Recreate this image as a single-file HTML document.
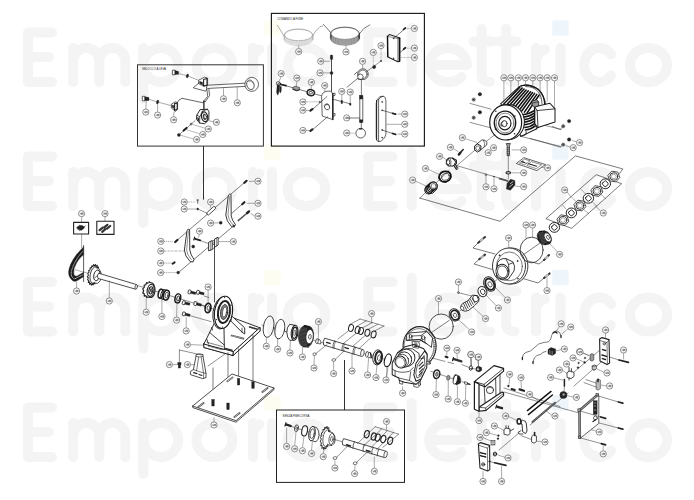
<!DOCTYPE html>
<html><head><meta charset="utf-8"><title>Exploded view</title>
<style>
html,body{margin:0;padding:0;background:#fff;}
body{width:694px;height:500px;overflow:hidden;font-family:"Liberation Sans",sans-serif;}
svg{display:block;}
.wm{fill:none;stroke:#f4f4f4;stroke-width:10;stroke-linecap:round;stroke-linejoin:round;}
.k{fill:none;stroke:#222;stroke-width:0.7;stroke-linecap:round;stroke-linejoin:round;}
.t{fill:none;stroke:#444;stroke-width:0.45;}
.f{fill:#fff;stroke:#222;stroke-width:0.7;stroke-linejoin:round;}
.d{fill:#222;stroke:#222;stroke-width:0.4;}
.g{fill:#999;stroke:#222;stroke-width:0.5;}
.c{fill:#fff;stroke:#333;stroke-width:0.5;}
.bx{fill:none;stroke:#1a1a1a;stroke-width:0.9;}
.n{font-family:"Liberation Sans",sans-serif;font-size:2.6px;fill:#333;text-anchor:middle;}
.lb{font-family:"Liberation Sans",sans-serif;font-size:3.4px;fill:#222;}
</style></head><body>
<svg width="694" height="500" viewBox="0 0 694 500">
<rect width="694" height="500" fill="#fff"/>
<defs>
<g id="wr">
<path class="wm" d="M52,-54.5H28V-5H52M28,-30H49"/>
<path class="wm" d="M73.2,-39V-5M73.2,-26A13.1,13.1 0 0 1 99.4,-26V-5M99.4,-26A13,13.1 0 0 1 125.4,-26V-5"/>
<path class="wm" d="M143.4,-39V12"/><ellipse class="wm" cx="160.8" cy="-22" rx="17.4" ry="17"/>
<ellipse class="wm" cx="214.4" cy="-22" rx="18" ry="17"/>
<path class="wm" d="M253,-39V-5M253,-25A13,13 0 0 1 259.5,-37.5"/>
<path class="wm" d="M272,-39V-5"/>
<rect x="263.7" y="-66.5" width="17" height="15" rx="1.5" fill="#fefdf2"/>
<ellipse class="wm" cx="306.5" cy="-22" rx="18.8" ry="17"/>
<path class="wm" d="M392.5,-54.5H368.4V-5H392.5M368.4,-30H390"/>
<path class="wm" d="M411.6,-59V-5"/>
<path class="wm" d="M430,-22H467A18.9,17 0 1 0 461.5,-10"/>
<path class="wm" d="M481.6,-58V-13Q481.6,-5 490,-5M473.5,-45.5H492.5" />
<path class="wm" d="M506.2,-58V-13Q506.2,-5 514.6,-5M499,-45.5H516.5"/>
<path class="wm" d="M536,-39V-5M536,-25A13,13 0 0 1 545,-37.5"/>
<path class="wm" d="M560.5,-39V-5"/>
<rect x="552.2" y="-66.8" width="16.5" height="15.6" rx="1.5" fill="#eef6fb"/>
<path class="wm" d="M611,-32.5A15,17 0 1 0 611,-11.5"/>
<ellipse class="wm" cx="648.5" cy="-22" rx="18.6" ry="17"/>
</g>
</defs>
<use href="#wr" y="87"/><use href="#wr" y="211"/><use href="#wr" y="336.5"/><use href="#wr" y="462"/>
<defs><g id="co"><circle r="3.1" style="fill:#fff;stroke:#4a4a4a;stroke-width:0.62"/><path d="M-1.3,0.8L-1.3,-0.8M-0.5,-0.8h0.9v0.8h-0.9v0.8h0.9M0.9,-0.8h0.7v1.6h-0.7z" style="fill:none;stroke:#2a2a2a;stroke-width:0.42"/></g></defs>
<!-- 00_boxes.py -->
<rect class="bx" x="137.5" y="64.8" width="125.9" height="81.3" style="stroke:#333;stroke-width:1.0"/>
<rect class="bx" x="271.4" y="13.4" width="153.0" height="132.7" style="stroke-width:1.15"/>
<rect class="bx" x="276.5" y="410.0" width="128.0" height="72.4" style="stroke:#222;stroke-width:1.0"/>
<path class="bx" d="M203.5,146.1V199.6M344.5,410V360" />
<text class="lb" x="142" y="70" textLength="24" lengthAdjust="spacingAndGlyphs">SBLOCCO A LEVA</text>
<text class="lb" x="277.3" y="20" textLength="26" lengthAdjust="spacingAndGlyphs">COMANDO A FUNE</text>
<text class="lb" x="282.5" y="416.5" textLength="27" lengthAdjust="spacingAndGlyphs">SENZA FINECORSA</text>
<!-- 10_box1.py -->
<rect class="f" x="172.4" y="70.2" width="2.6" height="4.6" />
<path class="d" d="M175,70.6L178.6,71.6L178.6,74.2L175,74.6Z" />
<path class="t" d="M178.7,73.6L186.4,75.6M188.4,76.2L198.4,80.2" />
<ellipse class="d" cx="187.4" cy="75.9" rx="1.1" ry="2.0" transform="rotate(15 187.4 75.9)" />
<path class="f" d="M198.6,80.2L204.5,77.2L207.6,78L207.6,85.2L203.8,86.3L198.6,83.6Z" />
<path class="k" d="M203.6,79.5L207,78.5L207,85L203.6,86Z" style="stroke-width:1.1"/>
<path class="d" d="M199.6,81.3L202.6,82.4L202.6,85L199.6,83.3Z" />
<path class="k" d="M198.6,83.3L193.2,87.8L205.6,91.2L207.2,88.5" />
<path class="k" d="M206.6,87.2L207.4,85.2L245.4,83.2M208.8,88.4L244.8,86.4M206.6,87.2L207.7,96.3L203.7,101.1M208.8,88.4L209.6,95.6L205.2,101.6M203.7,101.1L205.2,101.6" />
<ellipse class="f" cx="251.7" cy="84.4" rx="6.8" ry="7.0" />
<ellipse class="f" cx="250.4" cy="84.8" rx="3.6" ry="4.9" transform="rotate(-20 250.4 84.8)" />
<path class="t" d="M247.6,81.5Q251,80 253.8,83.5" />
<path class="t" d="M223.5,88.2L223.5,95.7"/>
<path class="t" d="M237.2,87.0L237.2,99.6"/>
<use href="#co" x="223.5" y="98.8"/>
<use href="#co" x="237.3" y="102.8"/>
<rect class="f" x="142.3" y="96.3" width="2.6" height="4.6" />
<path class="d" d="M144.9,96.7L149,97.6L149,100.4L144.9,100.7Z" />
<path class="t" d="M149.2,99.4L156.6,101.7M158.6,102.3L171.6,105.7" />
<ellipse class="d" cx="157.6" cy="102.0" rx="1.1" ry="2.0" transform="rotate(15 157.6 102)" />
<path class="f" d="M171.4,104.2L175.2,101.8L177.6,102.6L177.6,109.2L175.6,111.4L171.4,108Z" />
<path class="k" d="M174.6,103.6L177.2,103L177.2,109L174.6,110.6Z" style="stroke-width:1.1"/>
<path class="d" d="M172.2,105L173.8,105.6L173.8,108.4L172.2,107.4Z" />
<path class="k" d="M177.2,102.6Q179,99 182,98.3L203.3,102.8" />
<path class="k" d="M203.9,101.3L203.9,110.4" style="stroke-width:1.3"/>
<path class="t" d="M146.3,101.2L145.8,108.9"/>
<path class="t" d="M157.6,104.2L157.6,111.9"/>
<path class="t" d="M174.1,111.5L173.6,116.6"/>
<use href="#co" x="145.8" y="112.1"/>
<use href="#co" x="157.6" y="115.1"/>
<use href="#co" x="173.6" y="119.8"/>
<g transform="translate(172,100) scale(0.092)" fill="none" stroke="#1a1a1a" stroke-width="9" stroke-linejoin="round" stroke-linecap="round">
<path d="M270,165L305,105L385,100L402,128L400,215L355,258L300,250L270,215Z" style="fill:#fff;stroke-width:10"/>
<path d="M270,165L302,182L300,250M302,182L330,122L385,100M330,122L336,150" style="stroke-width:8"/>
<path d="M276,185L294,195L294,232L276,218Z" style="fill:#222;stroke:none"/>
<ellipse cx="354" cy="182" rx="33" ry="54" transform="rotate(-12 354 182)" style="stroke-width:13;stroke:#222"/>
<ellipse cx="356" cy="184" rx="17" ry="32" transform="rotate(-12 356 184)" style="fill:#555;stroke-width:7"/>
<ellipse cx="360" cy="182" rx="8" ry="16" transform="rotate(-12 360 182)" style="fill:#fff;stroke:none"/>
</g>
<path class="t" d="M208.8,120.6L213.2,121.8"/>
<use href="#co" x="216.4" y="122.3"/>
<path class="k" d="M195,120.8L179,134.8" style="stroke-width:0.5"/>
<circle class="g" cx="191.1" cy="124.1" r="1.0"/>
<path class="k" d="M186.6,127.9L183.6,130.6" style="stroke-width:2.0;stroke:#1a1a1a"/>
<circle class="d" cx="178.9" cy="134.9" r="1.5"/>
<path class="t" d="M192.6,124.4L205.2,128.3M186.6,129.8L199.4,133.6M180.6,135.2L193.4,139" style="stroke:#666"/>
<use href="#co" x="208.3" y="129.0"/>
<use href="#co" x="202.8" y="134.5"/>
<use href="#co" x="196.6" y="139.5"/>
<!-- 11_box2.py -->
<ellipse class="k" cx="298.5" cy="35.1" rx="14.6" ry="6.3" style="stroke:#aaa;stroke-width:0.45"/>
<ellipse class="k" cx="298.5" cy="36.1" rx="14.6" ry="6.3" style="stroke:#aaa;stroke-width:0.45"/>
<ellipse class="k" cx="298.5" cy="37.1" rx="14.6" ry="6.3" style="stroke:#aaa;stroke-width:0.45"/>
<ellipse class="k" cx="298.5" cy="38.1" rx="14.6" ry="6.3" style="stroke:#aaa;stroke-width:0.45"/>
<ellipse class="k" cx="298.5" cy="39.3" rx="14.6" ry="6.3" style="stroke:#aaa;stroke-width:0.45"/>
<ellipse class="f" cx="298.5" cy="35.0" rx="14.0" ry="5.7" style="stroke:#777;stroke-width:0.5"/>
<path class="k" d="M283.9,35.8Q281,31 277.3,25.3M313,35.1Q316,30 320,26.7L322.6,26" style="stroke:#555;stroke-width:0.5"/>
<ellipse class="k" cx="345.0" cy="33.6" rx="14.6" ry="6.6" style="stroke:#333;stroke-width:0.55"/>
<ellipse class="k" cx="345.0" cy="34.6" rx="14.6" ry="6.6" style="stroke:#333;stroke-width:0.55"/>
<ellipse class="k" cx="345.0" cy="35.6" rx="14.6" ry="6.6" style="stroke:#333;stroke-width:0.55"/>
<ellipse class="k" cx="345.0" cy="36.6" rx="14.6" ry="6.6" style="stroke:#333;stroke-width:0.55"/>
<ellipse class="k" cx="345.0" cy="37.6" rx="14.6" ry="6.6" style="stroke:#333;stroke-width:0.55"/>
<ellipse class="k" cx="345.0" cy="38.6" rx="14.6" ry="6.6" style="stroke:#333;stroke-width:0.55"/>
<ellipse class="f" cx="345.0" cy="33.4" rx="14.0" ry="6.0" style="stroke:#333;stroke-width:0.5"/>
<path class="k" d="M330.6,32.5Q327,28 323.2,24.2M359.6,33.5Q363,27.5 369.8,24.9" style="stroke-width:0.6"/>
<path class="t" d="M298.7,45.5L298.7,48.4"/>
<path class="t" d="M346.0,45.2L346.0,48.6"/>
<use href="#co" x="298.7" y="51.6"/>
<use href="#co" x="346.0" y="51.9"/>
<path class="k" d="M331.5,58L331.5,100" style="stroke-width:0.8"/>
<rect class="d" x="330.3" y="55.0" width="2.4" height="4.6" rx="0.8"/>
<circle class="d" cx="331.5" cy="72.9" r="1.5"/>
<path class="t" d="M324.0,61.3L330.4,61.3"/>
<path class="t" d="M323.3,72.9L330.0,72.9"/>
<use href="#co" x="320.7" y="61.3"/>
<use href="#co" x="320.0" y="72.9"/>
<circle class="k" cx="278.3" cy="83.4" r="1.9"/>
<path class="d" d="M277.2,84.6L276.6,92.6L277.8,95.2L278.8,92.6L279.4,85" />
<path class="d" d="M279.6,86.2L279.4,91L280.4,93L281.2,91L281.4,86.6" />
<circle class="k" cx="279.4" cy="84.2" r="1.5"/>
<path class="k" d="M281.5,84.7L293,87.7M299.8,89.6L307.4,91.8M314.4,93.8L321.4,95.8" style="stroke-width:0.6"/>
<path class="k" d="M281,84.5L286,85.6" style="stroke-width:1.6"/>
<path class="g" d="M292.8,87.2L295.6,86L299.8,87.6L299.4,90L296.6,90.8L292.8,89.4Z" />
<path class="k" d="M293,89.2L296.6,90.6L299.4,89.8" style="stroke-width:1"/>
<ellipse class="k" cx="310.8" cy="92.6" rx="3.7" ry="2.9" transform="rotate(15 310.8 92.6)" style="stroke-width:1.5"/>
<ellipse class="f" cx="310.8" cy="92.6" rx="1.8" ry="1.2" transform="rotate(15 310.8 92.6)" />
<path class="t" d="M281.1,76.8L279.0,81.4"/>
<path class="t" d="M296.9,81.3L296.4,86.0"/>
<path class="t" d="M311.4,85.5L311.2,89.4"/>
<path class="t" d="M324.7,88.7L324.9,92.2"/>
<use href="#co" x="281.1" y="73.6"/>
<use href="#co" x="296.9" y="78.1"/>
<use href="#co" x="311.4" y="82.3"/>
<use href="#co" x="324.7" y="85.5"/>
<path class="f" d="M321.6,96.4Q322,92 327,91.2L330.4,91.2Q332.8,92 332.8,95.6L332.8,119.6L322.2,116Z" />
<path class="k" d="M332.8,93.4L332.8,119.6" style="stroke-width:1.4"/>
<ellipse class="f" cx="327.0" cy="106.8" rx="2.5" ry="3.1" transform="rotate(-25 327 106.8)" />
<path class="k" d="M325.2,105.2Q327,103.4 328.8,105" />
<path class="k" d="M333,93.6l2,-0.6l0,2.4l-2,0.6M333,114l2,-0.6l0,2.4l-2,0.6" />
<path class="t" d="M306.2,101.9L319.3,101.9" style="stroke:#888"/>
<circle class="d" cx="319.8" cy="101.9" r="0.7"/>
<path class="k" d="M312.2,109.7L327,96.5M312.4,129.8L327.7,116.8" style="stroke-width:0.6"/>
<path class="k" d="M310.4,110.6l2,-1.4M310.4,130.8l2,-1.4" style="stroke-width:2.2"/>
<path class="t" d="M306.2,110.3L309.6,110.5"/>
<path class="t" d="M306.2,130.4L309.6,130.6"/>
<use href="#co" x="302.9" y="101.9"/>
<use href="#co" x="302.9" y="110.3"/>
<use href="#co" x="302.9" y="130.4"/>
<path class="k" d="M332.8,99.2L351,104" style="stroke-width:0.6"/>
<ellipse class="d" cx="341.8" cy="101.9" rx="0.8" ry="2.0" />
<ellipse class="d" cx="350.2" cy="104.2" rx="0.7" ry="1.4" />
<path class="t" d="M341.8,94.6L341.8,99.8"/>
<path class="t" d="M350.2,95.3L350.2,102.4"/>
<use href="#co" x="341.8" y="91.4"/>
<use href="#co" x="350.2" y="92.1"/>
<use href="#co" x="346.7" y="117.9"/>
<use href="#co" x="346.7" y="133.0"/>
<path class="k" d="M363,74L347,87.2" style="stroke-width:0.6"/>
<circle class="f" cx="362.9" cy="74.2" r="5.4"/>
<circle class="k" cx="362.9" cy="74.2" r="4.2"/>
<circle class="f" cx="360.4" cy="76.8" r="2.7"/>
<path class="k" d="M357,72L354.4,74.6M360.6,79.4L358,79" />
<path class="t" d="M362.5,64.5L362.7,69.0"/>
<use href="#co" x="362.5" y="61.3"/>
<path class="k" d="M381,61L366,72" style="stroke-width:0.5"/>
<path class="d" d="M372.6,66.4l1.4,-1.2l1.6,0.6l0.2,1.8l-1.4,1.2l-1.6,-0.6z" />
<circle class="d" cx="381.0" cy="61.0" r="0.7"/>
<path class="t" d="M381,48.8L381,60M373.3,55.6L373.4,65" style="stroke-dasharray:0.8 0.6"/>
<use href="#co" x="381.0" y="45.6"/>
<use href="#co" x="373.3" y="52.4"/>
<path class="f" d="M387.3,36.4L389.4,34.6L399.8,37.9L399.8,61.3L397.8,61.8L387.6,56.7Z" style="stroke-width:1.1"/>
<path class="k" d="M399.8,37.9L397.8,38.6L397.8,61.8M397.8,38.6L387.3,36.4" style="stroke-width:0.5"/>
<path class="k" d="M399.4,38.2L399.4,61.2" style="stroke-width:1.5;stroke:#111"/>
<path class="k" d="M387.6,36.6L387.8,56.4" style="stroke-width:1.3;stroke:#111"/>
<circle class="d" cx="393.6" cy="38.6" r="0.5"/>
<circle class="d" cx="393.6" cy="58.2" r="0.5"/>
<path class="k" d="M404.1,29.4L394.3,37.9M404,49.2L399.9,52.6" style="stroke-width:0.6"/>
<path class="k" d="M403.6,29.4l1.8,-1.4M403.6,49.2l1.8,-1.4" style="stroke-width:1.8"/>
<path class="t" d="M407,28.5L411,28.5M407,48.2L411,48.2M401.3,57.5L411.1,57.5" style="stroke-dasharray:0.8 0.6"/>
<use href="#co" x="414.4" y="28.5"/>
<use href="#co" x="414.4" y="48.1"/>
<use href="#co" x="414.4" y="57.5"/>
<path class="k" d="M361.4,79.6L361.4,95.6M361.3,122.2L361.3,128.4" style="stroke-width:0.6"/>
<rect class="f" x="359.8" y="95.6" width="3.0" height="26.6" />
<rect class="d" x="359.8" y="95.6" width="3.0" height="3.4" />
<rect class="d" x="359.8" y="119.8" width="3.0" height="2.6" />
<circle class="f" cx="360.7" cy="133.2" r="4.8"/>
<path class="k" d="M359.6,128.8h2.4" style="stroke-width:1.2"/>
<path class="k" d="M348.8,118L359.6,118" style="stroke-width:0.6"/>
<path class="t" d="M349.9,133.2L355.8,133.2" style="stroke:#888"/>
<path class="f" d="M376.2,103.4Q376.4,98.6 380,96.6L383,96.2Q385.9,96.6 385.9,100.4L385.9,134.4Q385.6,138 381.2,141L379,141.6Q376.2,141.4 376.2,138Z" />
<path class="k" d="M378.6,99.4Q379.6,97.4 383,96.2M378.6,99.4L378.6,141.5" />
<path class="k" d="M376.6,100.6L376.6,139.4" style="stroke-width:1.1"/>
<circle class="d" cx="382.2" cy="101.9" r="0.6"/>
<circle class="d" cx="382.2" cy="110.3" r="0.6"/>
<circle class="d" cx="382.2" cy="129.9" r="0.6"/>
<circle class="d" cx="382.2" cy="137.6" r="0.6"/>
<path class="k" d="M382.6,110.4L393.6,113.6M382.6,130.2L393.6,133.8" style="stroke-width:0.6"/>
<path class="k" d="M392.6,113.3l3,0.9M392.6,133.5l3,0.9" style="stroke-width:1.8"/>
<path class="t" d="M397.6,114.0L401.6,114.1"/>
<path class="t" d="M397.6,134.1L401.6,134.1"/>
<path class="t" d="M386.6,124.3L401.5,124.3"/>
<use href="#co" x="404.8" y="114.1"/>
<use href="#co" x="404.8" y="124.3"/>
<use href="#co" x="404.8" y="134.1"/>
<!-- 20_motor.py -->
<path class="k" d="M470,103.4L491,109.2M470,122.4L490,127.6M521,136.4L560.5,146.4M544.8,125.4L561,129.4" style="stroke-width:0.5"/>
<g transform="translate(470,65) scale(0.17)" fill="none" stroke="#1a1a1a" stroke-width="6" stroke-linejoin="round" stroke-linecap="round">
<path d="M180,228L290,127Q340,104 400,142Q442,180 444,240L444,330L390,376L300,420L240,300Z" style="fill:#fff;stroke-width:6"/>
<path d="M300,123Q350,108 405,146Q438,180 440,238" style="stroke-width:7"/><path d="M330,127Q372,125 402,158Q424,186 424,228" style="stroke-width:4"/>
<path d="M196,232L293,131" style="stroke-width:9;stroke:#111"/>
<path d="M212,238L306,136" style="stroke-width:9;stroke:#111"/>
<path d="M227,243L318,141" style="stroke-width:9;stroke:#111"/>
<path d="M242,249L330,147" style="stroke-width:9;stroke:#111"/>
<path d="M258,254L343,152" style="stroke-width:9;stroke:#111"/>
<path d="M274,260L356,157" style="stroke-width:9;stroke:#111"/>
<path d="M289,266L368,162" style="stroke-width:9;stroke:#111"/>
<path d="M304,271L380,167" style="stroke-width:9;stroke:#111"/>
<path d="M320,277L393,173" style="stroke-width:9;stroke:#111"/>
<path d="M336,282L406,178" style="stroke-width:9;stroke:#111"/>
<path d="M308,292Q345,290 378,268" style="stroke-width:9;stroke:#111"/>
<path d="M311,307Q347,305 379,283" style="stroke-width:9;stroke:#111"/>
<path d="M314,322Q349,320 380,298" style="stroke-width:9;stroke:#111"/>
<path d="M317,337Q351,335 381,313" style="stroke-width:9;stroke:#111"/>
<path d="M320,352Q353,350 382,328" style="stroke-width:9;stroke:#111"/>
<path d="M323,367Q355,365 383,343" style="stroke-width:9;stroke:#111"/>
<path d="M326,382Q357,380 384,358" style="stroke-width:9;stroke:#111"/>
<path d="M300,420L330,408L330,392M390,376L390,356" style="stroke-width:5"/>
<path d="M380,245L470,225L500,258L500,335L400,368L380,345Z" style="fill:#fff;stroke-width:6"/>
<path d="M395,268L500,258M395,268L380,245M395,268L400,368" style="stroke-width:5"/>
<path d="M380,250L380,345" style="stroke-width:8"/>
<path d="M366,212L392,204L404,216L404,240L380,248L366,236Z" style="fill:#999;stroke-width:5"/><path d="M368,224L402,216" style="stroke-width:4"/>
<ellipse cx="226" cy="336" rx="94" ry="103" style="fill:#fff;stroke-width:6"/>
<ellipse cx="210" cy="338" rx="94" ry="103" style="fill:#fff;stroke-width:7"/>
<ellipse cx="206" cy="340" rx="63" ry="69" style="stroke-width:8"/>
<ellipse cx="206" cy="341" rx="52" ry="58" style="stroke-width:3"/>
<ellipse cx="205" cy="342" rx="36" ry="40" style="stroke-width:7"/>
<ellipse cx="202" cy="345" rx="16" ry="18" style="fill:#fff;stroke-width:5"/>
<path d="M194,334L182,342L182,360L194,354" style="stroke-width:4"/>
<circle cx="152" cy="272" r="4.5" style="fill:#222;stroke:none"/>
<circle cx="264" cy="300" r="4.5" style="fill:#222;stroke:none"/>
<circle cx="262" cy="405" r="4.5" style="fill:#222;stroke:none"/>
<circle cx="150" cy="378" r="4.5" style="fill:#222;stroke:none"/>
</g>
<path class="t" d="M503.9,81.0L503.9,103.3"/>
<use href="#co" x="503.9" y="77.8"/>
<path class="t" d="M510.9,81.0L510.9,97.3"/>
<use href="#co" x="510.9" y="77.8"/>
<path class="t" d="M518.4,81.0L518.4,88.6"/>
<use href="#co" x="518.4" y="77.8"/>
<path class="t" d="M525.5,81.0L525.5,87.0"/>
<use href="#co" x="525.5" y="77.8"/>
<path class="t" d="M532.8,81.0L532.8,88.0"/>
<use href="#co" x="532.8" y="77.8"/>
<path class="t" d="M540.1,81.0L540.1,99.0"/>
<use href="#co" x="540.1" y="77.8"/>
<path class="t" d="M547.2,81.0L547.2,101.6"/>
<use href="#co" x="547.2" y="77.8"/>
<path class="t" d="M554.5,81.0L554.5,108.4"/>
<use href="#co" x="554.5" y="77.8"/>
<circle class="d" cx="479.9" cy="94.2" r="1.7"/>
<circle class="g" cx="473.7" cy="99.6" r="1.6"/>
<circle class="d" cx="473.7" cy="99.6" r="0.6"/>
<circle class="d" cx="479.9" cy="112.3" r="1.7"/>
<circle class="g" cx="473.7" cy="117.7" r="1.6"/>
<circle class="d" cx="473.7" cy="117.7" r="0.6"/>
<circle class="d" cx="569.1" cy="121.1" r="1.7"/>
<circle class="g" cx="563.2" cy="126.2" r="1.6"/>
<circle class="d" cx="563.2" cy="126.2" r="0.6"/>
<circle class="d" cx="569.1" cy="139.5" r="1.7"/>
<circle class="g" cx="563.2" cy="144.6" r="1.6"/>
<circle class="d" cx="563.2" cy="144.6" r="0.6"/>
<path class="t" d="M572.2,140.6L576.6,141.8"/>
<path class="t" d="M565.6,145.6L570.0,147.0"/>
<path class="k" d="M552.4,126.4L560.4,129.6L562,127.6M530,138.4L560.4,147.2L562,145.8" style="stroke-width:0.5"/>
<use href="#co" x="579.6" y="142.6"/>
<use href="#co" x="573.2" y="147.7"/>
<path class="k" d="M495,134.6L486,141.6M475.6,149.6L456,166.4M449,170.4L436,183" style="stroke-width:0.5"/>
<path class="f" d="M475.6,145L482.1,139.8Q485.6,139.6 486.9,142.4L486.7,145L479.5,150.8Z" style="stroke-width:0.8"/>
<path class="f" d="M474.6,146L477.6,144L481,146L480.6,150L477.6,152L474.6,150Z" style="stroke-width:1.0"/>
<path class="k" d="M476.2,146.8L478,145.8L479.6,146.8L479.4,149.4L477.6,150.4L476.2,149.4Z" style="stroke-width:0.6"/>
<path class="k" d="M483.6,140.4Q485.4,143 484.4,146.4" style="stroke-width:0.6"/>
<path class="t" d="M465.6,138.8L477.4,142.6"/>
<use href="#co" x="462.3" y="137.6"/>
<use href="#co" x="493.6" y="147.7"/>
<use href="#co" x="488.2" y="152.7"/>
<path class="k" d="M459.6,153.6L463.2,149.6" style="stroke-width:1.5"/>
<path class="k" d="M458.8,154.6L460.4,152.8" style="stroke-width:2.4"/>
<path class="t" d="M453.4,148.5L458.6,152.0"/>
<use href="#co" x="450.4" y="147.3"/>
<path class="f" d="M446.4,160.4L448.8,158L452.6,158L456.4,160.2L456.4,163.6L453,166L448.6,166L446.4,163.8Z" style="stroke-width:1.1"/>
<ellipse class="f" cx="448.2" cy="162.2" rx="1.7" ry="2.5" style="stroke-width:0.9"/>
<path class="k" d="M450,158.2Q452,161 450.6,165.8" style="stroke-width:0.6"/>
<path class="k" d="M454.6,163.6L457.6,167.8L456.4,169.4L454.4,166.4M452.4,158.4Q455,160 456.2,163" style="stroke-width:1.1"/>
<circle class="f" cx="457.2" cy="168.2" r="0.9"/>
<path class="t" d="M442.6,157.3L446.8,160.0"/>
<use href="#co" x="439.6" y="156.4"/>
<ellipse class="k" cx="445.0" cy="176.6" rx="6.0" ry="5.2" transform="rotate(-20 445 176.6)" style="stroke-width:1.8;stroke:#111"/>
<ellipse class="k" cx="445.4" cy="176.8" rx="4.0" ry="3.3" transform="rotate(-20 445.4 176.8)" />
<path class="k" d="M439.4,175L439,178.6Q441,182.6 446,182.6" style="stroke-width:1.0"/>
<path class="t" d="M428.6,169.4L439.4,174.6"/>
<use href="#co" x="425.5" y="168.5"/>
<path class="f" d="M426,186.4L430.6,182.4L435,182.2L437,184.4L437,189L432.6,193.4L428,193.4L426,191Z" style="stroke-width:0.9"/>
<ellipse class="k" cx="428.4" cy="190.2" rx="3.6" ry="3.9" transform="rotate(-20 428.4 190.2)" style="stroke-width:1.0;stroke:#111"/>
<ellipse class="k" cx="429.6" cy="189.1" rx="3.6" ry="3.9" transform="rotate(-20 429.65 189.1)" style="stroke-width:1.0;stroke:#111"/>
<ellipse class="k" cx="430.9" cy="188.0" rx="3.6" ry="3.9" transform="rotate(-20 430.9 188.0)" style="stroke-width:1.0;stroke:#111"/>
<ellipse class="k" cx="432.1" cy="186.9" rx="3.6" ry="3.9" transform="rotate(-20 432.15 186.89999999999998)" style="stroke-width:1.0;stroke:#111"/>
<ellipse class="k" cx="433.4" cy="185.8" rx="3.6" ry="3.9" transform="rotate(-20 433.4 185.79999999999998)" style="stroke-width:1.0;stroke:#111"/>
<ellipse class="f" cx="433.4" cy="185.8" rx="3.7" ry="3.5" transform="rotate(-20 433.4 185.8)" style="stroke-width:0.9"/>
<ellipse class="k" cx="433.6" cy="186.0" rx="2.5" ry="2.4" transform="rotate(-20 433.6 186)" style="stroke-width:0.6"/>
<path class="t" d="M415.6,181.2L426.2,186.0"/>
<use href="#co" x="412.6" y="180.1"/>
<path class="k" d="M456.9,165.7L508,180.6" style="stroke-width:0.5"/>
<circle class="f" cx="486.0" cy="174.7" r="0.9"/>
<circle class="d" cx="494.0" cy="176.6" r="0.6"/>
<path class="t" d="M486.0,176.0L486.0,183.6"/>
<path class="t" d="M494.0,177.6L494.0,185.6"/>
<use href="#co" x="486.0" y="186.8"/>
<use href="#co" x="494.0" y="188.8"/>
<path class="k" d="M499.6,178.6L507.6,181" style="stroke-width:1.8;stroke:#555"/>
<path class="d" d="M507,183.6L510.6,179.2L514.8,180.6L515,185L510.4,190.2L506.4,189Z" />
<path class="k" d="M510.4,183.6L513,181.6M509.4,187L512.6,184.4" style="stroke:#fff;stroke-width:0.7"/>
<path class="t" d="M515.2,186.0L520.4,186.6"/>
<use href="#co" x="523.7" y="186.6"/>
<path class="g" d="M506.2,143.6L510.4,143.6L509.4,145.6L509.4,155.6L507.2,155.6L507.2,145.6Z" style="fill:#aaa;stroke-width:0.8"/>
<path class="k" d="M507.2,147.5h2.2M507.2,149.5h2.2M507.2,151.5h2.2M507.2,153.5h2.2" style="stroke-width:0.4"/>
<path class="k" d="M508.3,155L508.3,171.6M508.3,174L508.3,179" style="stroke-width:0.5"/>
<ellipse class="k" cx="508.3" cy="172.8" rx="2.3" ry="1.2" style="stroke-width:1.1"/>
<path class="t" d="M511.6,149.9L520.4,149.9"/>
<use href="#co" x="523.7" y="149.9"/>
<path class="t" d="M511.4,172.8L520.4,172.8"/>
<use href="#co" x="523.7" y="172.8"/>
<path class="f" d="M516.3,163.5L523.9,157.7L545.5,164.6L536.8,170.6Z" />
<path class="k" d="M519.6,162.8L524.6,159.2L530,160.8L525,164.6ZM527,165.2L531.4,161.6L541.6,164.8L536.6,168.4ZM522,162L527,163.4" style="stroke-width:0.5"/>
<path class="k" d="M521.6,161.6l3,0.9M528.6,163.8l8,2.4" style="stroke-width:1.1"/>
<path class="t" d="M541.6,167.4L544.4,167.7"/>
<use href="#co" x="547.6" y="167.8"/>
<path class="k" d="M419.6,198L500,221.3L575.4,155.9L622.8,168.9L619.6,173.6" style="stroke-width:0.6"/>
<path class="k" d="M420.1,198.1L426,192" style="stroke-width:0.5"/>
<path class="k" d="M546.2,218.4L596.2,174.7L621.7,183.7L571.9,228.1Z" style="stroke-width:0.6"/>
<ellipse class="f" cx="554.4" cy="227.4" rx="5.2" ry="4.9" style="stroke-width:1.0"/>
<rect class="k" x="552.0" y="225.0" width="4.8" height="4.8" transform="rotate(-40 554.4 227.4)" rx="1.1" style="stroke-width:0.9"/>
<polygon class="f" points="568.9,221.1 565.0,225.5 559.0,224.5 556.9,219.1 560.8,214.8 566.8,215.8" style="stroke-width:0.8"/>
<ellipse class="k" cx="562.9" cy="220.1" rx="3.9" ry="3.7" style="stroke-width:0.9"/>
<ellipse class="t" cx="562.9" cy="220.1" rx="2.4" ry="2.3" />
<ellipse class="f" cx="571.4" cy="212.9" rx="5.2" ry="4.9" style="stroke-width:1.0"/>
<rect class="k" x="569.0" y="210.5" width="4.8" height="4.8" transform="rotate(-40 571.4 212.9)" rx="1.1" style="stroke-width:0.9"/>
<polygon class="f" points="585.9,206.6 582.0,210.9 575.9,210.0 573.9,204.6 577.8,200.2 583.8,201.2" style="stroke-width:0.8"/>
<ellipse class="k" cx="579.9" cy="205.6" rx="3.9" ry="3.7" style="stroke-width:0.9"/>
<ellipse class="t" cx="579.9" cy="205.6" rx="2.4" ry="2.3" />
<ellipse class="f" cx="588.4" cy="198.3" rx="5.2" ry="4.9" style="stroke-width:1.0"/>
<rect class="k" x="586.0" y="195.9" width="4.8" height="4.8" transform="rotate(-40 588.4 198.3)" rx="1.1" style="stroke-width:0.9"/>
<polygon class="f" points="602.9,192.0 598.9,196.4 592.9,195.4 590.8,190.1 594.8,185.7 600.8,186.7" style="stroke-width:0.8"/>
<ellipse class="k" cx="596.9" cy="191.1" rx="3.9" ry="3.7" style="stroke-width:0.9"/>
<ellipse class="t" cx="596.9" cy="191.1" rx="2.4" ry="2.3" />
<ellipse class="f" cx="605.3" cy="183.8" rx="5.2" ry="4.9" style="stroke-width:1.0"/>
<rect class="k" x="602.9" y="181.4" width="4.8" height="4.8" transform="rotate(-40 605.3 183.8)" rx="1.1" style="stroke-width:0.9"/>
<polygon class="f" points="619.8,177.5 615.9,181.9 609.9,180.9 607.8,175.5 611.7,171.2 617.8,172.1" style="stroke-width:0.8"/>
<ellipse class="k" cx="613.8" cy="176.5" rx="3.9" ry="3.7" style="stroke-width:0.9"/>
<ellipse class="t" cx="613.8" cy="176.5" rx="2.4" ry="2.3" />
<path class="t" d="M562.3,204.9L566.4,209.4M580.6,188.8L586,194.4M571.4,197L576,201.6" />
<path class="t" d="M589,214L583.6,209.4M606,199L600.6,194M597.4,206.6L592,201.6" />
<path class="t" d="M567.2,192.0L571.0,197.2"/>
<path class="t" d="M600.4,210.8L594.6,205.4"/>
<use href="#co" x="564.7" y="190.0"/>
<use href="#co" x="603.3" y="213.0"/>
<!-- 30_left.py -->
<rect class="f" x="73.6" y="222.4" width="15.0" height="11.6" style="stroke-width:1.1"/>
<rect class="f" x="96.8" y="221.2" width="17.2" height="13.2" style="stroke-width:1.1"/>
<path class="d" d="M76.6,227.4l3,-2.2l3.4,0.6l1.6,2l-3,2.4l-3.6,-0.6z" />
<path class="k" d="M79.6,230.6l5.6,-4.6" />
<path class="k" d="M99.6,230.2l3.2,-2.6M104.2,227.4l3.2,-2.6M102.2,231.8l3.2,-2.6M107,228.6l3.2,-2.6" style="stroke-width:2.2;stroke:#333"/>
<path class="t" d="M81.6,216.8L81.6,222.4"/>
<path class="t" d="M105.0,216.8L105.0,221.2"/>
<use href="#co" x="81.6" y="213.6"/>
<use href="#co" x="105.0" y="213.6"/>
<path class="t" d="M81.6,234.0L81.6,248.0"/>
<g transform="translate(62,240) scale(0.12)" fill="none" stroke="#1a1a1a" stroke-width="6" stroke-linejoin="round" stroke-linecap="round">
<path d="M178,58L120,122Q62,200 55,262Q52,312 90,340Q110,352 132,336L178,306L178,270L126,300Q106,306 99,286Q92,240 122,190Q150,142 178,126Z" style="fill:#1a1a1a;stroke-width:3"/>
<path d="M176,92Q102,170 78,262Q72,314 106,324L176,288" style="stroke:#ddd;stroke-width:7;stroke-dasharray:3 9"/>
<path d="M180,46L180,346" style="stroke-width:6"/>
<path d="M112,248L180,268" style="stroke-width:3"/>
</g>
<path class="t" d="M76.6,281.6L76.6,287.8"/>
<use href="#co" x="76.6" y="291.0"/>
<path class="t" d="M83.6,272.0L89.0,273.4"/>
<polygon class="f" points="99.2,274.8 98.2,276.2 98.9,278.1 97.7,278.8 98.1,281.0 96.8,281.1 96.8,283.4 95.6,282.7 95.2,284.9 94.2,283.6 93.4,285.4 92.6,283.6 91.6,284.9 91.2,282.7 90.0,283.4 90.0,281.1 88.7,281.0 89.1,278.8 87.9,278.1 88.6,276.2 87.6,274.8 88.6,273.4 87.9,271.5 89.1,270.8 88.7,268.6 90.0,268.5 90.0,266.2 91.2,266.9 91.6,264.7 92.6,266.0 93.4,264.2 94.2,266.0 95.2,264.7 95.6,266.9 96.8,266.2 96.8,268.5 98.1,268.6 97.7,270.8 98.9,271.5 98.2,273.4" transform="rotate(12 93.4 274.8)" style="stroke-width:1.0"/>
<ellipse class="k" cx="94.4" cy="275.0" rx="4.2" ry="8.4" transform="rotate(12 94.4 275)" style="stroke-width:0.8"/>
<path class="f" d="M95.6,267.6L98.6,268.4Q101.6,271.6 101.4,276.4Q100.8,281.6 97.6,283.4L95,283" style="stroke-width:0.8"/>
<ellipse class="f" cx="96.8" cy="275.4" rx="3.0" ry="5.4" transform="rotate(12 96.8 275.4)" style="stroke-width:0.9"/>
<path class="k" d="M95,277.6L100.4,273" style="stroke-width:0.7"/>
<path class="f" d="M98.6,273.2Q96.6,275.6 98,278.4L135.6,289.2Q137.8,287.4 136.6,284.6Z" style="stroke-width:0.8"/>
<ellipse class="f" cx="136.2" cy="286.9" rx="1.1" ry="2.3" transform="rotate(15 136.2 286.9)" />
<path class="t" d="M109.3,280.6L109.3,297.8"/>
<use href="#co" x="109.3" y="301.0"/>
<path class="k" d="M137.6,285.6L143,287.2M153.6,290.6L158.6,292.2M169,295.4L175,297.2M180.6,299L205.6,306.6M210.6,308.2L215,309.6" style="stroke-width:0.5"/>
<polygon class="f" points="153.8,289.8 152.5,291.5 153.0,293.8 151.4,294.3 151.0,296.7 149.4,296.0 148.2,297.8 147.0,296.0 145.4,296.7 145.0,294.3 143.4,293.8 143.9,291.5 142.6,289.8 143.9,288.1 143.4,285.8 145.0,285.3 145.4,282.9 147.0,283.6 148.2,281.8 149.4,283.6 151.0,282.9 151.4,285.3 153.0,285.8 152.5,288.1" transform="rotate(10 148.2 289.8)" style="stroke-width:1.2"/>
<path class="f" d="M148.4,282L152.6,283.2Q155.2,286 155,290.6Q154.6,295.6 151.8,297.4L147.8,297.2" style="stroke-width:1.1"/>
<ellipse class="f" cx="150.6" cy="290.4" rx="3.4" ry="6.0" transform="rotate(10 150.6 290.4)" style="stroke-width:1.2"/>
<ellipse class="f" cx="150.8" cy="290.4" rx="1.9" ry="3.6" transform="rotate(10 150.8 290.4)" style="stroke-width:1.0"/>
<path class="k" d="M149.6,288L152,292.6M152,288.4L149.6,292.6" style="stroke-width:0.9"/>
<path class="k" d="M160.6,289.2L166.6,290.2M159.8,298.2L165.8,300" style="stroke-width:1.1"/>
<ellipse class="f" cx="160.6" cy="293.7" rx="2.3" ry="4.5" transform="rotate(12 160.6 293.7)" style="stroke-width:1.5;stroke:#1a1a1a"/>
<ellipse class="k" cx="163.4" cy="294.4" rx="2.5" ry="4.7" transform="rotate(12 163.4 294.4)" style="stroke-width:0.9"/>
<ellipse class="f" cx="166.4" cy="295.1" rx="2.8" ry="5.0" transform="rotate(12 166.4 295.1)" style="stroke-width:1.5;stroke:#1a1a1a"/>
<ellipse class="k" cx="166.6" cy="295.1" rx="1.4" ry="3.0" transform="rotate(12 166.6 295.1)" style="stroke-width:0.7"/>
<ellipse class="f" cx="177.8" cy="298.4" rx="2.8" ry="4.6" transform="rotate(12 177.8 298.4)" style="stroke-width:1.4;stroke:#1a1a1a"/>
<ellipse class="k" cx="178.2" cy="298.4" rx="1.3" ry="2.5" transform="rotate(12 178.2 298.4)" style="stroke-width:0.9"/>
<path class="k" d="M175.4,296L176.4,302.4" style="stroke-width:0.6"/>
<path class="t" d="M146.2,298.4L146.2,309.0"/>
<path class="t" d="M161.9,300.0L161.9,313.3"/>
<path class="t" d="M177.0,303.4L176.6,316.9"/>
<use href="#co" x="146.2" y="312.2"/>
<use href="#co" x="161.9" y="316.5"/>
<use href="#co" x="176.6" y="320.1"/>
<g transform="translate(188.2,291.6) rotate(14)"><rect x="2.6" y="-1.15" width="5.0" height="2.3" style="fill:#222;stroke:#111;stroke-width:0.3"/><rect x="0" y="-1.9" width="2.7" height="3.8" rx="0.7" style="fill:#fff;stroke:#222;stroke-width:0.8"/></g>
<g transform="translate(196.6,292.0) rotate(14)"><rect x="2.6" y="-1.15" width="5.0" height="2.3" style="fill:#222;stroke:#111;stroke-width:0.3"/><rect x="0" y="-1.9" width="2.7" height="3.8" rx="0.7" style="fill:#fff;stroke:#222;stroke-width:0.8"/></g>
<g transform="translate(182.4,302.4) rotate(14)"><rect x="2.6" y="-1.15" width="5.0" height="2.3" style="fill:#222;stroke:#111;stroke-width:0.3"/><rect x="0" y="-1.9" width="2.7" height="3.8" rx="0.7" style="fill:#fff;stroke:#222;stroke-width:0.8"/></g>
<g transform="translate(194.0,303.2) rotate(14)"><rect x="2.6" y="-1.15" width="5.0" height="2.3" style="fill:#222;stroke:#111;stroke-width:0.3"/><rect x="0" y="-1.9" width="2.7" height="3.8" rx="0.7" style="fill:#fff;stroke:#222;stroke-width:0.8"/></g>
<g transform="translate(182.6,313.6) rotate(14)"><rect x="2.6" y="-1.15" width="5.0" height="2.3" style="fill:#222;stroke:#111;stroke-width:0.3"/><rect x="0" y="-1.9" width="2.7" height="3.8" rx="0.7" style="fill:#fff;stroke:#222;stroke-width:0.8"/></g>
<path class="k" d="M204.2,296L209,297.6M202.4,305.2L205.6,306.2M189.8,315.6L211,321.6" style="stroke-width:0.5"/>
<path class="t" d="M186.2,317.2L186.2,327.7"/>
<use href="#co" x="186.2" y="330.9"/>
<ellipse class="k" cx="208.0" cy="308.0" rx="2.9" ry="4.7" transform="rotate(10 208.0 308)" style="stroke-width:1.7;stroke:#1a1a1a"/>
<ellipse class="f" cx="208.4" cy="308.0" rx="1.3" ry="2.4" transform="rotate(10 208.4 308)" />
<path class="t" d="M208.1,290.2L208.1,302.6"/>
<use href="#co" x="208.1" y="287.0"/>
<path class="t" d="M164,263.1L171.6,263.1M164,272.6L176.6,272.6" style="stroke-dasharray:1.4 0.7"/>
<path class="k" d="M172.6,263.8l2,-1.4" style="stroke-width:2"/>
<circle class="d" cx="178.1" cy="272.6" r="1.4"/>
<use href="#co" x="160.6" y="263.1"/>
<use href="#co" x="160.6" y="272.6"/>
<path class="k" d="M245.4,181.7L176.1,241.1M243.2,203.3L231.9,213.2M233.7,225.8L193.2,260M178.6,272.4L192,261" style="stroke-width:0.6"/>
<path class="k" d="M244.4,182.8l2.2,-2M242.2,204.2l2.2,-2M175.2,242l2.2,-2" style="stroke-width:2.2"/>
<path class="k" d="M248.4,212L238.2,220.6" style="stroke-width:1.5;stroke:#555"/>
<path class="k" d="M247.2,213l1.8,-1.6" style="stroke-width:2.4"/>
<path class="t" d="M249.0,181.4L254.8,181.2"/>
<path class="t" d="M246.6,203.3L254.8,203.3"/>
<path class="t" d="M250.6,213.4L254.8,216.0"/>
<use href="#co" x="258.0" y="181.2"/>
<use href="#co" x="258.0" y="203.3"/>
<use href="#co" x="258.0" y="216.2"/>
<path class="f" d="M228.4,195.2Q229.4,193.4 231,194.4L231.2,216Q232,220.4 235.4,224.4L234.4,227L231.6,226.6Q226,221 225.8,215Z" style="stroke-width:0.9"/>
<path class="k" d="M229.8,196L228,215Q228.6,220 232.6,224.6" style="stroke-width:0.5"/>
<circle class="d" cx="233.7" cy="225.6" r="0.8"/>
<path class="f" d="M187,230.4Q188,228.6 189.6,229.6L189.8,250Q190.6,255 194,259.4L193,262L190.2,261.6Q184.6,256 184.4,250Z" style="stroke-width:0.9"/>
<path class="k" d="M188.4,231L186.6,250Q187.2,255 191.2,259.6" style="stroke-width:0.5"/>
<path class="f" d="M206.6,213L213.8,206.4Q215.6,206.4 215.8,208.4L208.6,215Q206.6,215 206.6,213Z" style="stroke-width:0.8"/>
<path class="k" d="M197.7,200L197.7,203.2" style="stroke-width:0.7"/>
<path class="k" d="M196.9,200h1.6" style="stroke-width:0.7"/>
<circle class="d" cx="197.7" cy="209.0" r="1.0"/>
<path class="t" d="M187.6,202L195,202" style="stroke-dasharray:1 0.7"/>
<path class="t" d="M187.6,209.0L196.4,209.0"/>
<path class="k" d="M198.6,209.4L207.2,213.2" style="stroke-width:0.5"/>
<use href="#co" x="184.2" y="202.0"/>
<use href="#co" x="184.2" y="209.0"/>
<path class="t" d="M210.6,205.2L210.8,208.4"/>
<use href="#co" x="210.6" y="202.0"/>
<circle class="d" cx="220.7" cy="222.7" r="1.5"/>
<path class="t" d="M213.8,223.0L218.8,222.8"/>
<use href="#co" x="210.6" y="223.1"/>
<path class="k" d="M195.2,238.8L200.2,240.4" style="stroke-width:1.9"/>
<path class="k" d="M194.6,237.2L193.8,240" style="stroke-width:1.2"/>
<path class="t" d="M199.3,234.4L198.4,237.6"/>
<use href="#co" x="199.5" y="231.2"/>
<path class="k" d="M200.6,240.6L208.4,243.6" style="stroke-width:0.5"/>
<path class="f" d="M214.5,239L218.1,237.2L218.1,245L214.5,247.3Z" style="stroke-width:0.9"/>
<path class="k" d="M212.2,241.4L214.5,240.1M212.2,249.5L214.5,247.3M212.2,245.4L214.5,243.6" style="stroke-width:0.7"/>
<path class="f" d="M208.6,242.3L212.2,240.5L212.2,249.5L208.6,250.9Z" style="stroke-width:0.9"/>
<path class="k" d="M210.4,241.6L210.4,250" style="stroke-width:0.5"/>
<path class="k" d="M216.4,238.2L216.4,246" style="stroke-width:0.5"/>
<path class="t" d="M219.0,241.6L230.0,241.6"/>
<use href="#co" x="233.3" y="241.6"/>
<path class="k" d="M214.5,247.4L214.5,302" style="stroke-width:0.8"/>
<circle class="d" cx="193.2" cy="246.5" r="1.5"/>
<path class="t" d="M164,241.4L173.4,241.4" style="stroke-dasharray:1.2 0.7"/>
<path class="t" d="M164,251L184.4,251" style="stroke-dasharray:2 0.6 0.5 0.6"/>
<use href="#co" x="160.8" y="241.4"/>
<use href="#co" x="160.8" y="251.0"/>
<!-- 31_bracket.py -->
<g transform="translate(170,285) scale(0.18)" fill="none" stroke="#1a1a1a" stroke-width="5" stroke-linejoin="round" stroke-linecap="round">
<path d="M188,328L352,372L500,238L350,182L300,230Z" style="fill:#fff;stroke-width:5"/>
<path d="M188,328L188,347L350,392L352,372M350,392L500,256L500,238" style="fill:#fff;stroke-width:5"/>
<path d="M188,328L188,347L350,392L352,372Z" style="fill:#fff;stroke-width:5"/><path d="M352,372L350,392L500,256L500,238Z" style="fill:#fff;stroke-width:5"/>
<path d="M216,338L288,357M306,353L344,363M342,281L408,298M442,233L486,246" style="stroke-width:9;stroke:#333"/>
<path d="M218,338.500L286,356.500M344,281.500L406,297.500" style="stroke-width:3;stroke:#fff"/>
<path d="M338,168L415,238L415,272L400,262L340,202Z" style="fill:#fff;stroke-width:5"/>
<path d="M400,262L400,240" style="stroke-width:4"/>
<path d="M250,205L188,328L302,358L300,240Z" style="fill:#fff;stroke-width:5"/>
<path d="M218,262L302,334M204,300L214,328M232,236L236,250" style="stroke-width:4.5"/>
<path d="M205,318L292,342" style="stroke-width:3"/>
<ellipse cx="289" cy="155" rx="50" ry="90" transform="rotate(8 289 155)" style="fill:#fff;stroke-width:5"/>
<ellipse cx="297" cy="152" rx="50" ry="90" transform="rotate(8 297 152)" style="fill:#fff;stroke-width:6"/>
<ellipse cx="300" cy="150" rx="33" ry="62" transform="rotate(8 300 150)" style="stroke-width:11;stroke:#222"/>
<ellipse cx="301" cy="150" rx="20" ry="42" transform="rotate(8 301 150)" style="fill:#888;stroke-width:4"/>
<ellipse cx="303" cy="150" rx="11" ry="28" transform="rotate(8 303 150)" style="fill:#fff;stroke-width:3"/>
<circle cx="264" cy="100" r="3.5" style="fill:#222;stroke:none"/>
<circle cx="303" cy="70" r="3.5" style="fill:#222;stroke:none"/>
<circle cx="338" cy="112" r="3.5" style="fill:#222;stroke:none"/>
<circle cx="334" cy="200" r="3.5" style="fill:#222;stroke:none"/>
<circle cx="292" cy="234" r="3.5" style="fill:#222;stroke:none"/>
<circle cx="258" cy="192" r="3.5" style="fill:#222;stroke:none"/>
</g>
<ellipse class="k" cx="268.6" cy="326.7" rx="5.2" ry="10.8" transform="rotate(10 268.6 326.7)" style="stroke-width:0.8"/>
<ellipse class="k" cx="279.8" cy="329.1" rx="4.8" ry="9.9" transform="rotate(10 279.8 329.1)" style="stroke-width:0.8"/>
<path class="k" d="M262,325L264,325.6M274,328.4L275.4,328.8M285,331.4L292,333.4" style="stroke-width:0.5"/>
<path class="t" d="M266.3,337.4L266.3,343.0"/>
<path class="t" d="M277.6,339.0L277.6,346.0"/>
<use href="#co" x="266.3" y="346.2"/>
<use href="#co" x="277.6" y="349.2"/>
<path class="t" d="M190.6,344.6L203.4,345.2"/>
<use href="#co" x="187.4" y="344.6"/>
<path class="k" d="M213,368L213,400M228,352.6L228,404M238.6,349L238.6,379M253,335L253,382.6" style="stroke-width:0.6"/>
<path class="f" d="M192.6,406L232,374L274,388L236,420.6Z" style="stroke-width:0.8"/>
<path class="k" d="M192.6,406L192.8,407.6L236,422.2L274,389.6L274,388" style="stroke-width:0.8"/>
<path class="k" d="M198.4,407.0L203.6,403.0" style="stroke-width:1.7;stroke:#333"/>
<path class="k" d="M198.6,406.9L203.4,403.1" style="stroke-width:0.7;stroke:#fff"/>
<path class="k" d="M234.4,417.0L239.6,413.0" style="stroke-width:1.7;stroke:#333"/>
<path class="k" d="M234.6,416.9L239.4,413.1" style="stroke-width:0.7;stroke:#fff"/>
<path class="k" d="M262.4,392.0L267.6,388.0" style="stroke-width:1.7;stroke:#333"/>
<path class="k" d="M262.6,391.9L267.4,388.1" style="stroke-width:0.7;stroke:#fff"/>
<path class="k" d="M227.4,381.4L232.6,377.4" style="stroke-width:1.7;stroke:#333"/>
<path class="k" d="M227.6,381.3L232.4,377.5" style="stroke-width:0.7;stroke:#fff"/>
<rect class="d" x="211.8" y="399.4" width="2.4" height="6.6" />
<rect class="d" x="226.8" y="403.0" width="2.4" height="6.6" />
<rect class="d" x="237.4" y="378.4" width="2.4" height="6.6" />
<rect class="d" x="251.8" y="381.8" width="2.4" height="6.6" />
<path class="t" d="M214.0,417.4L214.0,421.8"/>
<use href="#co" x="214.0" y="425.0"/>
<path class="f" d="M196,354.6Q199.6,353 203,354.6L203,356.4L206,373.4L206,377.6L202.6,378.6L190.4,374.6L190.4,371.4L193.4,369.6L196,356.4Z" style="stroke-width:0.8"/>
<path class="k" d="M196,356.4Q199.6,357.6 203,356.4M193.4,369.6L203.6,373L206,373.4M203.6,373L203.6,378M198.6,357.4L196.6,370.6M201.2,357.2L203.4,372.6" style="stroke-width:0.6"/>
<path class="k" d="M193.6,372.6L197,373.6M199,374.4L202,375.4" style="stroke-width:1.1"/>
<path class="k" d="M179.4,350L179.4,362.4M179.4,350L201.6,355M208,366L225,354" style="stroke-width:0.5"/>
<rect class="d" x="177.8" y="362.6" width="3.2" height="2.2" />
<rect class="d" x="178.3" y="364.8" width="2.2" height="3.2" />
<path class="t" d="M172.6,364.6L177.4,364.6"/>
<path class="t" d="M190.6,364.6L194.4,364.6"/>
<use href="#co" x="169.4" y="364.6"/>
<use href="#co" x="187.4" y="364.6"/>
<!-- 40_center.py -->
<path class="k" d="M285,331.4L288,332.4M300.6,336.6L304,337.6M313.6,340.4L315.8,341M321,342.4L323.6,343M364,353.6L365.6,354M372,355.8L374,356.4M383,358.8L384.4,359.2M392,361.2L395,362" style="stroke-width:0.5"/>
<path class="f" d="M294.8,325.2L289.6,324.4Q286.6,327.4 286.8,332.4Q287,337.6 289.8,340.4L294.4,340.2" style="stroke-width:0.9"/>
<ellipse class="f" cx="294.6" cy="332.7" rx="3.4" ry="7.5" transform="rotate(6 294.6 332.7)" style="stroke-width:1.0"/>
<ellipse class="k" cx="294.7" cy="332.8" rx="2.3" ry="5.6" transform="rotate(6 294.7 332.8)" style="stroke-width:1.4;stroke:#222"/>
<ellipse class="k" cx="294.8" cy="332.9" rx="1.0" ry="3.0" transform="rotate(6 294.8 332.9)" style="stroke-width:0.6"/>
<ellipse class="d" cx="304.4" cy="336.0" rx="6.0" ry="10.6" transform="rotate(6 304.4 336)" />
<path class="k" d="M304.4,325.6L309.4,326.6M303.4,346.6L308.6,347" style="stroke-width:1.2;stroke:#111"/>
<ellipse class="d" cx="308.2" cy="336.6" rx="5.4" ry="10.3" transform="rotate(6 308.2 336.6)" />
<path class="k" d="M299.4,327.5L306.6,328.4" style="stroke:#888;stroke-width:0.35"/>
<path class="k" d="M299.4,328.9L306.6,329.8" style="stroke:#888;stroke-width:0.35"/>
<path class="k" d="M299.4,330.2L306.6,331.1" style="stroke:#888;stroke-width:0.35"/>
<path class="k" d="M299.4,331.6L306.6,332.4" style="stroke:#888;stroke-width:0.35"/>
<path class="k" d="M299.4,332.9L306.6,333.8" style="stroke:#888;stroke-width:0.35"/>
<path class="k" d="M299.4,334.2L306.6,335.1" style="stroke:#888;stroke-width:0.35"/>
<path class="k" d="M299.4,335.6L306.6,336.5" style="stroke:#888;stroke-width:0.35"/>
<path class="k" d="M299.4,336.9L306.6,337.8" style="stroke:#888;stroke-width:0.35"/>
<path class="k" d="M299.4,338.3L306.6,339.2" style="stroke:#888;stroke-width:0.35"/>
<path class="k" d="M299.4,339.6L306.6,340.5" style="stroke:#888;stroke-width:0.35"/>
<path class="k" d="M299.4,341.0L306.6,341.9" style="stroke:#888;stroke-width:0.35"/>
<path class="k" d="M299.4,342.4L306.6,343.2" style="stroke:#888;stroke-width:0.35"/>
<path class="k" d="M299.4,343.7L306.6,344.6" style="stroke:#888;stroke-width:0.35"/>
<path class="k" d="M299.4,345.1L306.6,345.9" style="stroke:#888;stroke-width:0.35"/>
<ellipse class="f" cx="309.6" cy="336.6" rx="3.7" ry="7.2" transform="rotate(6 309.6 336.6)" style="stroke-width:0.8"/>
<ellipse class="f" cx="309.9" cy="336.8" rx="1.3" ry="2.4" transform="rotate(6 309.9 336.8)" style="stroke-width:0.7"/>
<path class="f" d="M316.6,339L320,339.8Q321.4,341.6 320.6,344L317.2,343.4" style="stroke-width:0.7"/>
<ellipse class="f" cx="317.0" cy="341.2" rx="1.3" ry="2.3" transform="rotate(8 317 341.2)" style="stroke-width:0.7"/>
<path class="f" d="M324.6,338.2Q322.6,341 323.6,345L361.6,356.4Q364,353.4 363,349.6Z" style="stroke-width:0.8"/>
<ellipse class="f" cx="362.4" cy="353.0" rx="1.7" ry="3.5" transform="rotate(10 362.4 353)" style="stroke-width:0.7"/>
<path class="k" d="M334.5,340.8Q332.6,344.4 332.9,348.0" style="stroke-width:0.7"/>
<path class="k" d="M335.7,341.1Q333.8,344.7 334.1,348.3" style="stroke-width:0.5"/>
<path class="k" d="M343.5,343.4Q341.6,347.0 341.9,350.6" style="stroke-width:0.7"/>
<path class="k" d="M344.7,343.7Q342.8,347.3 343.1,350.9" style="stroke-width:0.5"/>
<path class="k" d="M354.5,346.8Q352.6,350.4 352.9,354.0" style="stroke-width:0.7"/>
<path class="k" d="M355.7,347.1Q353.8,350.7 354.1,354.3" style="stroke-width:0.5"/>
<path class="k" d="M326.6,342.4L330,343.4M345,347.6L348.4,348.6" style="stroke-width:1.5;stroke:#222"/>
<path class="f" d="M366.6,351.8L370.6,352.8Q372.4,355 371.4,358L367.4,357" style="stroke-width:0.7"/>
<ellipse class="f" cx="367.0" cy="354.4" rx="1.4" ry="2.7" transform="rotate(10 367 354.4)" style="stroke-width:0.7"/>
<path class="k" d="M370.4,353L371.2,357.6" style="stroke-width:1.2"/>
<ellipse class="f" cx="377.4" cy="357.4" rx="4.6" ry="7.6" transform="rotate(8 377.4 357.4)" style="stroke-width:0.9"/>
<ellipse class="k" cx="378.6" cy="357.6" rx="3.4" ry="6.2" transform="rotate(8 378.6 357.6)" style="stroke-width:1.9;stroke:#222"/>
<ellipse class="f" cx="379.0" cy="357.8" rx="1.5" ry="3.0" transform="rotate(8 379 357.8)" style="stroke-width:0.7"/>
<ellipse class="k" cx="387.8" cy="360.3" rx="3.3" ry="6.5" transform="rotate(14 387.8 360.3)" style="stroke-width:1.2;stroke:#1a1a1a"/>
<path class="f" d="M313,353.6l1.6,-0.8l1.6,0.6l0,1.4l-1.6,0.8l-1.6,-0.6z" style="stroke-width:0.6"/>
<path class="f" d="M332,359.4l1.8,-0.8l1.8,0.6l0,1.4l-1.8,0.8l-1.8,-0.6z" style="stroke-width:0.6"/>
<path class="k" d="M316,353.4L327,344.6M335.6,359L345,350.2" style="stroke-width:0.5"/>
<ellipse class="k" cx="351.0" cy="328.0" rx="2.4" ry="3.5" transform="rotate(15 351 328)" style="stroke-width:1.0;stroke:#222"/>
<ellipse class="k" cx="357.6" cy="330.0" rx="2.4" ry="3.5" transform="rotate(15 357.6 330)" style="stroke-width:1.0;stroke:#222"/>
<ellipse class="k" cx="361.0" cy="331.0" rx="2.4" ry="3.5" transform="rotate(15 361 331)" style="stroke-width:1.0;stroke:#222"/>
<ellipse class="k" cx="367.4" cy="332.8" rx="2.4" ry="3.5" transform="rotate(15 367.4 332.8)" style="stroke-width:1.0;stroke:#222"/>
<ellipse class="k" cx="373.6" cy="334.4" rx="2.4" ry="3.5" transform="rotate(15 373.6 334.4)" style="stroke-width:1.0;stroke:#222"/>
<path class="k" d="M360,319L384,326M360,319L349.6,324.6M366.4,320.8L356.6,326.4M372.4,322.6L362.6,327.8M378,324.2L367.6,329.6M384,326L374.6,331" style="stroke-width:0.5"/>
<path class="k" d="M348,331.2L338,339M356,333.4L344,343M364.6,336L353,346M371,337.6L359,348.6" style="stroke-width:0.5"/>
<path class="t" d="M371.6,316.8L371.6,322.4"/>
<use href="#co" x="371.6" y="313.6"/>
<path class="t" d="M318.4,324.8L318.4,339.0"/>
<use href="#co" x="318.4" y="321.6"/>
<path class="t" d="M290.4,340.8L290.0,349.8"/>
<use href="#co" x="290.0" y="353.0"/>
<path class="t" d="M302.4,347.0L302.4,353.8"/>
<use href="#co" x="302.4" y="357.0"/>
<path class="t" d="M314.4,355.6L314.0,364.8"/>
<use href="#co" x="314.0" y="368.0"/>
<path class="t" d="M333.6,361.6L333.6,370.4"/>
<use href="#co" x="333.6" y="373.6"/>
<path class="t" d="M352.0,353.0L352.0,367.8"/>
<use href="#co" x="352.0" y="371.0"/>
<path class="t" d="M368.6,358.0L367.6,371.8"/>
<use href="#co" x="367.6" y="375.0"/>
<path class="t" d="M377.0,365.0L376.0,374.4"/>
<use href="#co" x="376.0" y="377.6"/>
<path class="t" d="M388.0,367.2L386.4,376.8"/>
<use href="#co" x="386.0" y="380.0"/>
<g transform="translate(385,320) scale(0.1441)" fill="none" stroke="#222" stroke-width="6" stroke-linejoin="round" stroke-linecap="round">
<ellipse cx="240" cy="182" rx="115" ry="136" style="fill:#fff;stroke-width:7"/>
<ellipse cx="236" cy="184" rx="104" ry="124" style="stroke-width:4"/>
<path d="M294,62L289,72" style="stroke-width:4"/>
<path d="M305,70L299,79" style="stroke-width:4"/>
<path d="M315,78L308,87" style="stroke-width:4"/>
<path d="M324,89L316,96" style="stroke-width:4"/>
<path d="M332,100L324,106" style="stroke-width:4"/>
<path d="M339,112L330,118" style="stroke-width:4"/>
<path d="M344,125L335,130" style="stroke-width:4"/>
<path d="M349,139L340,142" style="stroke-width:4"/>
<path d="M352,153L343,155" style="stroke-width:4"/>
<path d="M354,167L344,169" style="stroke-width:4"/>
<path d="M355,182L345,182" style="stroke-width:4"/>
<path d="M354,197L344,195" style="stroke-width:4"/>
<path d="M352,211L343,209" style="stroke-width:4"/>
<path d="M349,225L340,222" style="stroke-width:4"/>
<path d="M344,239L335,234" style="stroke-width:4"/>
<path d="M339,252L330,246" style="stroke-width:4"/>
<path d="M332,264L324,258" style="stroke-width:4"/>
<path d="M324,275L316,268" style="stroke-width:4"/>
<path d="M315,286L308,277" style="stroke-width:4"/>
<path d="M305,294L299,285" style="stroke-width:4"/>
<path d="M294,302L289,292" style="stroke-width:4"/>
<path d="M283,308L279,298" style="stroke-width:4"/>
<path d="M271,313L268,302" style="stroke-width:4"/>
<path d="M50,300L50,380L95,402L100,420L135,432L215,446L245,420L285,330L292,235L268,200L200,170L140,185L85,230Z" style="fill:#fff;stroke-width:7"/>
<path d="M150,140L150,105L165,90L290,80L330,125L322,190L290,165L240,136Z" style="fill:#fff;stroke-width:6"/>
<path d="M150,140L240,136L290,165M165,90L170,112L250,108L290,80M250,108L262,150" style="stroke-width:5"/>
<ellipse cx="266" cy="122" rx="11" ry="13" style="fill:#fff;stroke-width:5"/><path d="M255,122L240,150M277,124L276,158" style="stroke-width:5"/>
<ellipse cx="178" cy="112" rx="9" ry="11" style="fill:#fff;stroke-width:5"/><path d="M169,112L168,138M187,112L187,137" style="stroke-width:5"/>
<path d="M190,150L232,148L240,170L232,196L196,190Z" style="stroke-width:5"/>
<path d="M205,160L222,160M205,172L224,172M205,184L222,184" style="stroke-width:6"/>
<path d="M85,230Q120,190 190,200L236,232L240,300L200,352" style="stroke-width:6"/>
<ellipse cx="150" cy="262" rx="58" ry="60" transform="rotate(-20 150 262)" style="fill:#fff;stroke-width:6"/>
<ellipse cx="135" cy="274" rx="50" ry="53" transform="rotate(-20 135 274)" style="fill:#fff;stroke-width:6"/>
<ellipse cx="120" cy="284" rx="44" ry="47" transform="rotate(-20 120 284)" style="fill:#fff;stroke-width:5"/>
<ellipse cx="108" cy="292" rx="38" ry="42" transform="rotate(-20 108 292)" style="fill:#fff;stroke-width:7"/>
<ellipse cx="106" cy="294" rx="30" ry="34" transform="rotate(-20 106 294)" style="stroke-width:4;stroke:#666"/>
<path d="M50,340L70,352L70,392M70,352Q110,372 170,356L196,330M95,402L170,420L215,446M170,420L178,360M100,420L100,440L122,446L124,430M200,446L200,462L228,468L245,452L245,424" style="stroke-width:5"/>
<ellipse cx="238" cy="446" rx="8" ry="10" style="fill:#fff;stroke-width:5"/>
<path d="M215,300L275,215L292,240L290,330L250,410L215,425L200,380Z" style="fill:#fff;stroke-width:7"/>
<path d="M226,310L272,246L278,322L246,392L222,402L214,372Z" style="stroke-width:5"/>
<path d="M236,318L262,292M238,340L268,312M240,362L264,338M236,384L256,362M250,270L270,262" style="stroke-width:8;stroke:#333"/>
<path d="M292,290L312,294L312,306L290,304" style="fill:#fff;stroke-width:5"/><ellipse cx="312" cy="300" rx="4" ry="6" style="fill:#fff;stroke-width:4"/>
</g>
<path class="t" d="M402.6,386.4L402.6,390.0"/>
<use href="#co" x="402.6" y="393.2"/>
<path class="t" d="M386.8,367.4L386.8,377.0"/>
<ellipse class="k" cx="441.2" cy="326.6" rx="12.1" ry="12.6" style="stroke-width:0.8"/>
<path class="k" d="M432.2,332L449.2,320.4" style="stroke-width:0.6"/>
<path class="t" d="M438.5,301.8L438.5,314.2"/>
<use href="#co" x="438.5" y="298.6"/>
<ellipse class="f" cx="454.6" cy="314.9" rx="5.2" ry="6.4" transform="rotate(-25 454.6 314.9)" style="stroke-width:0.9"/>
<ellipse class="k" cx="454.9" cy="315.1" rx="3.9" ry="4.9" transform="rotate(-25 454.9 315.1)" style="stroke-width:1.7;stroke:#222"/>
<ellipse class="f" cx="455.1" cy="315.3" rx="1.7" ry="2.2" transform="rotate(-25 455.1 315.3)" style="stroke-width:0.7"/>
<path class="t" d="M459.1,320.3L469.4,329.6"/>
<use href="#co" x="471.7" y="332.0"/>
<path class="k" d="M432.2,358L445,361.4M448,362.2L453.6,363.6M462,364.6L469,367.4M472.6,368.4L476.6,369.4" style="stroke-width:0.5"/>
<path class="k" d="M445.6,356.8l1.8,0.5" style="stroke-width:2.2"/>
<path class="k" d="M454,359.2L461.4,361.4" style="stroke-width:2.3;stroke:#333"/>
<path class="k" d="M453.4,357.6L452.6,360.6" style="stroke-width:1.3"/>
<path class="t" d="M446.9,351.4L446.7,355.6"/>
<path class="t" d="M457.0,353.5L457.4,358.6"/>
<use href="#co" x="446.9" y="348.2"/>
<use href="#co" x="457.0" y="350.3"/>
<ellipse class="k" cx="470.8" cy="368.0" rx="1.5" ry="2.3" transform="rotate(10 470.8 368)" style="stroke-width:0.9"/>
<path class="f" d="M477.4,366.6L480.6,367.4L481,370.2L478,371.2L476.6,369.4Z" style="stroke-width:0.8"/>
<path class="t" d="M470.8,357.7L470.8,365.4"/>
<path class="t" d="M478.0,360.4L478.6,366.4"/>
<use href="#co" x="470.8" y="354.5"/>
<use href="#co" x="478.0" y="357.2"/>
<path class="k" d="M431,371.4L433.6,372.2M440,374.4L446.4,376.6M450.4,378L453.6,379M462,381.6L464.4,382.4" style="stroke-width:0.5"/>
<ellipse class="k" cx="436.7" cy="374.2" rx="3.1" ry="4.3" transform="rotate(10 436.7 374.2)" style="stroke-width:1.5;stroke:#222"/>
<ellipse class="g" cx="436.9" cy="374.2" rx="1.3" ry="2.2" transform="rotate(10 436.9 374.2)" />
<ellipse class="g" cx="448.3" cy="377.8" rx="1.6" ry="2.5" transform="rotate(10 448.3 377.8)" />
<path class="d" d="M455,374.4L459.4,376Q461.6,379 460.6,383L456.4,385Q452.6,382 453.2,378Z" />
<ellipse class="f" cx="455.4" cy="379.6" rx="2.0" ry="4.6" transform="rotate(12 455.4 379.6)" style="stroke-width:0.8"/>
<path class="f" d="M464.6,381.6L467.6,382.6L467.4,384.6L464.4,383.8Z" style="stroke-width:0.7"/>
<path class="k" d="M467.6,383.6L470,384.4" style="stroke-width:1.4"/>
<path class="t" d="M436.4,378.8L436.0,391.4"/>
<path class="t" d="M448.3,380.6L448.2,395.8"/>
<path class="t" d="M457.4,385.4L457.4,398.6"/>
<path class="t" d="M465.8,385.0L465.4,400.1"/>
<use href="#co" x="436.0" y="394.6"/>
<use href="#co" x="448.2" y="399.0"/>
<use href="#co" x="457.4" y="401.8"/>
<use href="#co" x="465.4" y="403.3"/>
<!-- 50_flange.py -->
<path class="k" d="M459.6,311L462,309.4M478.6,296.6L480,295.4M486.6,290L487.6,289.2M494,282L497,279.6M520,255.6L523,253.6M540,242.6L541,241.6" style="stroke-width:0.5"/>
<path class="k" d="M478.2,242.8L485.0,237.0" style="stroke-width:2.0;stroke:#333"/>
<path class="k" d="M480.8,240.6L482.4,239.2" style="stroke-width:2.2;stroke:#bbb"/>
<path class="k" d="M479.2,259.2L485.0,254.6" style="stroke-width:2.0;stroke:#333"/>
<path class="k" d="M481.3,257.6L482.9,256.2" style="stroke-width:2.2;stroke:#bbb"/>
<path class="k" d="M544.0,260.0L549.0,255.0" style="stroke-width:2.0;stroke:#333"/>
<path class="k" d="M545.7,258.2L547.3,256.8" style="stroke-width:2.2;stroke:#bbb"/>
<path class="k" d="M544.0,278.0L549.6,273.4" style="stroke-width:2.0;stroke:#333"/>
<path class="k" d="M546.0,276.4L547.6,275.0" style="stroke-width:2.2;stroke:#bbb"/>
<path class="k" d="M478,243L473,248L495,254M479,259.4L474,264L494,270M544,260L539,264L526,260.4M544,278L538,283L520,277.6" style="stroke-width:0.6"/>
<ellipse class="f" cx="511.4" cy="266.0" rx="16.5" ry="18.0" style="stroke-width:0.9"/>
<ellipse class="f" cx="509.0" cy="266.0" rx="16.5" ry="18.0" style="stroke-width:0.9"/>
<ellipse class="k" cx="509.4" cy="266.4" rx="13.0" ry="14.4" style="stroke-width:0.6"/>
<circle class="d" cx="499.6" cy="255.4" r="0.7"/>
<circle class="d" cx="517.6" cy="261.0" r="0.7"/>
<circle class="d" cx="518.0" cy="278.6" r="0.7"/>
<circle class="d" cx="497.0" cy="272.0" r="0.7"/>
<path class="f" d="M497.6,262.6Q500,258 506,258.6L513,262Q515.6,266 514,271L508,279.6Q500,281 496.4,276.6Z" style="stroke-width:0.9"/>
<ellipse class="f" cx="502.4" cy="271.6" rx="6.4" ry="7.4" transform="rotate(-15 502.4 271.6)" style="stroke-width:1.0"/>
<ellipse class="k" cx="502.6" cy="271.8" rx="5.0" ry="6.0" transform="rotate(-15 502.6 271.8)" style="stroke-width:0.7"/>
<path class="k" d="M506,259L508.6,264.4L512.6,263M508.6,264.4L509,272" style="stroke-width:0.8"/>
<path class="t" d="M508.6,241.2L508.8,248.0"/>
<use href="#co" x="508.6" y="238.0"/>
<ellipse class="k" cx="531.6" cy="250.0" rx="11.5" ry="12.8" style="stroke-width:0.8"/>
<path class="k" d="M523,255L540,243" style="stroke-width:0.6"/>
<path class="t" d="M526.0,228.2L526.0,238.6"/>
<path class="t" d="M532.6,228.2L532.6,237.4"/>
<use href="#co" x="526.0" y="225.0"/>
<use href="#co" x="532.6" y="225.0"/>
<ellipse class="d" cx="542.4" cy="238.0" rx="4.8" ry="7.2" transform="rotate(-25 542.4 238)" />
<path class="k" d="M539.6,231.6L544.6,231.2M545,244.6L549.6,243" style="stroke-width:1.2;stroke:#111"/>
<ellipse class="d" cx="546.4" cy="237.6" rx="4.6" ry="7.0" transform="rotate(-25 546.4 237.6)" />
<path class="k" d="M538.6,233.6L543.0,232.4" style="stroke:#999;stroke-width:0.35"/>
<path class="k" d="M539.1,235.0L543.5,233.8" style="stroke:#999;stroke-width:0.35"/>
<path class="k" d="M539.6,236.4L544.0,235.2" style="stroke:#999;stroke-width:0.35"/>
<path class="k" d="M540.1,237.8L544.5,236.6" style="stroke:#999;stroke-width:0.35"/>
<path class="k" d="M540.6,239.2L545.0,238.0" style="stroke:#999;stroke-width:0.35"/>
<path class="k" d="M541.1,240.6L545.5,239.4" style="stroke:#999;stroke-width:0.35"/>
<path class="k" d="M541.6,242.0L546.0,240.8" style="stroke:#999;stroke-width:0.35"/>
<path class="k" d="M542.1,243.4L546.5,242.2" style="stroke:#999;stroke-width:0.35"/>
<ellipse class="f" cx="547.6" cy="237.4" rx="3.0" ry="4.8" transform="rotate(-25 547.6 237.4)" style="stroke-width:0.7"/>
<ellipse class="f" cx="548.0" cy="237.4" rx="1.3" ry="2.2" transform="rotate(-25 548 237.4)" style="stroke-width:0.7"/>
<path class="t" d="M549.6,243.6L557.6,252.0"/>
<use href="#co" x="559.6" y="254.4"/>
<path class="t" d="M547.0,277.6L547.0,287.4"/>
<use href="#co" x="547.0" y="290.6"/>
<ellipse class="f" cx="489.6" cy="284.0" rx="5.6" ry="7.6" transform="rotate(-25 489.6 284)" style="stroke-width:0.9"/>
<ellipse class="k" cx="489.8" cy="284.2" rx="4.2" ry="5.9" transform="rotate(-25 489.8 284.2)" style="stroke-width:1.8;stroke:#222"/>
<ellipse class="f" cx="490.0" cy="284.4" rx="1.9" ry="2.8" transform="rotate(-25 490 284.4)" style="stroke-width:0.7"/>
<path class="t" d="M495.0,287.0L505.0,297.4"/>
<use href="#co" x="507.4" y="300.0"/>
<ellipse class="f" cx="482.4" cy="291.6" rx="4.3" ry="5.3" transform="rotate(-25 482.4 291.6)" style="stroke-width:0.9"/>
<ellipse class="k" cx="482.8" cy="291.8" rx="2.2" ry="2.8" transform="rotate(-25 482.8 291.8)" style="stroke-width:0.8"/>
<path class="t" d="M485.0,294.0L496.0,305.4"/>
<use href="#co" x="498.4" y="308.0"/>
<circle class="g" cx="458.4" cy="292.6" r="1.0"/>
<path class="t" d="M458.4,285.2L458.4,291.4"/>
<use href="#co" x="458.4" y="282.0"/>
<path class="k" d="M459.6,293L477,297.2" style="stroke-width:0.5"/>
<path class="f" d="M472.4,295.2L477.6,295.6Q480,298 478.6,301.6L474.6,305.6L468.6,310.4Q465,312 462.4,310.4L461,307.6Q460.6,305 462.6,303.6L468,300.6Z" style="stroke-width:0.9"/>
<ellipse class="k" cx="475.6" cy="298.6" rx="2.6" ry="3.4" transform="rotate(-25 475.6 298.6)" style="stroke-width:0.8"/>
<path class="k" d="M463.6,303.6L466.4,309.6" style="stroke-width:0.8;stroke:#222"/>
<path class="k" d="M465.3,302.5L468.1,308.3" style="stroke-width:0.8;stroke:#222"/>
<path class="k" d="M467.0,301.4L469.8,307.0" style="stroke-width:0.8;stroke:#222"/>
<path class="k" d="M468.7,300.3L471.5,305.7" style="stroke-width:0.8;stroke:#222"/>
<path class="k" d="M470.4,299.2L473.2,304.4" style="stroke-width:0.8;stroke:#222"/>
<path class="k" d="M472.1,298.1L474.9,303.1" style="stroke-width:0.8;stroke:#222"/>
<ellipse class="f" cx="462.2" cy="308.2" rx="1.5" ry="2.3" transform="rotate(-25 462.2 308.2)" style="stroke-width:0.7"/>
<path class="t" d="M473.0,307.0L483.0,316.4"/>
<use href="#co" x="485.6" y="318.6"/>
<!-- 60_right.py -->
<path class="k" d="M504,388L560,406.6M504,392L579,413M499,450L519,433M574,372L600,350M574,386L604,359.6M530,425L568,393" style="stroke-width:0.5"/>
<g transform="translate(470,330) scale(0.2)" fill="none" stroke="#1a1a1a" stroke-width="4.5" stroke-linejoin="round" stroke-linecap="round">
<path d="M72,276L128,228L150,214L150,322L130,336L78,380Z" style="fill:#fff;stroke-width:4"/>
<path d="M128,228L130,336" style="stroke-width:4"/>
<circle cx="100" cy="300" r="18" style="fill:#fff;stroke-width:4"/><path d="M88,290Q100,280 112,290" style="stroke-width:3"/>
<path d="M22,258L120,178L168,192L168,206L75,284L45,272Z" style="fill:#fff;stroke-width:5.5"/>
<path d="M22,258L70,272L168,192M70,272L75,284" style="stroke-width:4"/>
<path d="M45,386L160,310L168,314L168,328L80,402L45,406Z" style="fill:#fff;stroke-width:5.5"/>
<path d="M45,386L78,390L168,316M78,390L80,402" style="stroke-width:3.5"/>
<path d="M22,258L45,270L45,406L22,396Z" style="fill:#fff;stroke-width:6"/>
</g>
<path class="t" d="M479.0,411.2L479.0,417.4"/>
<use href="#co" x="479.0" y="420.6"/>
<path class="d" d="M476,367.6L479,366.6L481.6,367.6L481.6,370.6L479,372L476,370.8Z" />
<ellipse class="f" cx="478.0" cy="369.2" rx="1.2" ry="1.6" />
<path class="t" d="M478.4,360.2L478.4,366.0"/>
<use href="#co" x="478.4" y="357.0"/>
<use href="#co" x="471.0" y="354.6"/>
<path class="k" d="M471,357.8L471.4,366M470,368.4L472.6,369" style="stroke-width:0.6"/>
<circle class="d" cx="508.4" cy="386.0" r="0.9"/>
<path class="k" d="M511.6,389l3.2,1" style="stroke-width:2.0"/>
<path class="k" d="M519.6,389.4l4.4,1.4" style="stroke-width:2.2"/>
<path class="t" d="M509.6,377.6L509.0,384.6"/>
<path class="t" d="M521.0,380.8L521.4,388.0"/>
<use href="#co" x="509.6" y="374.4"/>
<use href="#co" x="521.0" y="377.6"/>
<path class="k" d="M497.4,406.8l4.6,1.4" style="stroke-width:2.4"/>
<path class="k" d="M496.6,405.2l-0.8,3" style="stroke-width:1.2"/>
<path class="k" d="M527.4,410.6L551,391.4M528.4,414.6L552.4,395" style="stroke-width:1.4;stroke:#111"/>
<path class="k" d="M532.4,422L555,402.6" style="stroke-width:1.7;stroke:#333"/>
<path class="k" d="M532.4,422L555,402.6" style="stroke-width:0.5;stroke:#bbb;stroke-dasharray:0.5 0.6"/>
<use href="#co" x="529.6" y="394.4"/>
<path class="t" d="M532.4,396.4L538.0,400.6"/>
<use href="#co" x="555.0" y="416.0"/>
<path class="t" d="M551.8,415.4L546.0,410.6"/>
<circle class="d" cx="563.4" cy="395.0" r="3.6"/>
<circle class="g" cx="563.6" cy="394.6" r="1.5"/>
<path class="k" d="M564.4,379.6L564.4,386" style="stroke-width:1.5"/>
<path class="k" d="M564.4,386L564,391.4" style="stroke-width:0.5"/>
<path class="t" d="M553.8,377.8L563.0,380.2"/>
<use href="#co" x="550.6" y="377.4"/>
<path class="t" d="M567.2,395.6L573.2,397.0"/>
<use href="#co" x="576.4" y="397.4"/>
<path class="d" d="M548,349.6L551,347.6L555.6,349L555.6,353.4L552.4,355.4L548,354Z" />
<path class="k" d="M549.4,350.4v3.4M551,351v3.4M552.6,351.4v3.4" style="stroke:#ccc;stroke-width:0.4"/>
<path class="t" d="M556.0,351.0L561.2,349.6"/>
<use href="#co" x="564.4" y="349.0"/>
<path class="k" d="M522.4,357.6Q522.4,353.6 526,352.4Q531,351.6 534,348Q538,343 544,342.4Q550,342.6 551,338Q552,332 556,331Q560,331 561,336" style="stroke-width:0.6"/>
<path class="k" d="M533,362Q533.6,357 537,355.4Q541,355 543,352.4L546,351.4" style="stroke-width:0.6"/>
<path class="k" d="M522.4,357.4v2.2M533,361.6v2M561,335.6v2" style="stroke-width:1.3"/>
<path class="k" d="M553,333Q555,331 557,333" style="stroke-width:1.2"/>
<use href="#co" x="561.2" y="323.8"/>
<use href="#co" x="570.8" y="327.0"/>
<path class="t" d="M559.6,326.6L556.4,330.8"/>
<path class="t" d="M568.0,328.6L561.8,334.0"/>
<path class="f" d="M567,372.6L569.6,371L574,372.4L574,376.4L571,378.6L567,377.4Z" style="stroke-width:0.8"/>
<path class="k" d="M569,371.2V367.4M571.4,371.8V368.6M569,378V380" style="stroke-width:0.8"/>
<use href="#co" x="559.4" y="370.0"/>
<path class="t" d="M562.6,370.4L567.0,373.6"/>
<use href="#co" x="566.6" y="364.0"/>
<use href="#co" x="573.0" y="358.0"/>
<use href="#co" x="579.6" y="351.6"/>
<circle class="d" cx="578.0" cy="367.6" r="0.9"/>
<circle class="d" cx="584.6" cy="362.4" r="0.9"/>
<circle class="d" cx="578.6" cy="363.0" r="0.8"/>
<circle class="d" cx="585.0" cy="358.0" r="0.8"/>
<path class="t" d="M576,358.6L584,362M582.6,352.6L589,355.6" />
<path class="f" d="M599.6,339L602,337.6L609,339.6L609.6,363L607,364.6L600,361Z" style="stroke-width:1.1"/>
<path class="k" d="M600,340.6L607,342.6L607.4,364M607,342.6L609,339.8" style="stroke-width:0.6"/>
<circle class="k" cx="604.2" cy="343.8" r="1.2"/>
<path class="k" d="M602.6,349.6l3,0.9M602,355l4.6,1.4M602.4,358.6l3,0.9" style="stroke-width:1.5"/>
<path class="t" d="M605.6,333.2L605.4,338.0"/>
<use href="#co" x="605.6" y="330.0"/>
<path class="k" d="M609.6,357L619,360" style="stroke-width:0.5"/>
<path class="k" d="M619,360L628.4,362.4" style="stroke-width:1.7;stroke:#222"/>
<path class="t" d="M623.6,353.2L623.6,359.6"/>
<use href="#co" x="623.6" y="350.0"/>
<use href="#co" x="580.0" y="352.0"/>
<path class="t" d="M583.0,353.2L589.6,355.8"/>
<path class="g" d="M590,354.6L592,353.6L593.8,354.4L593.8,360L592,361.2L590,360.2Z" />
<path class="f" d="M592.2,366L594.4,365L596.2,365.8L596.2,369L594,370.2L592.2,369.2Z" style="stroke-width:0.8"/>
<path class="k" d="M592.2,366L594,366.8L596.2,365.8M594,366.8V370" style="stroke-width:0.5"/>
<path class="t" d="M597.0,369.0L603.8,372.2"/>
<use href="#co" x="607.0" y="373.0"/>
<path class="g" d="M596,380.6L598,379L600.4,380L600.4,388.6L598,390.2L596,389Z" style="fill:#bbb"/>
<path class="k" d="M598,379.2V381.6" style="stroke-width:1.6"/>
<path class="k" d="M596,383L586,379.6M596,387L584,382.6" style="stroke-width:0.5"/>
<path class="t" d="M601.0,385.0L606.4,386.0"/>
<use href="#co" x="609.6" y="386.0"/>
<path class="f" d="M579,410.4L597.1,394.7L598.8,395.6L598.8,423.4L580.6,438L579.2,437.6Z" style="stroke-width:0.7"/>
<path class="k" d="M579.4,410.6L597.4,395" style="stroke-width:2.6;stroke:#555"/>
<path class="k" d="M579.6,410.4L579.8,437.4" style="stroke-width:2.6;stroke:#555"/>
<path class="k" d="M579.4,410.6L597.4,395M579.6,410.4L579.8,437.4" style="stroke-width:0.6;stroke:#ccc"/>
<rect class="g" x="577.8" y="408.8" width="2.6" height="2.6" />
<rect class="g" x="578.2" y="436.0" width="2.6" height="2.6" />
<rect class="g" x="596.0" y="393.6" width="2.6" height="2.4" />
<rect class="d" x="593.3" y="400.8" width="3.8" height="13.6" />
<path class="k" d="M594.4,403h1.6M594.4,406h1.6M594.4,410h1.6" style="stroke:#ddd;stroke-width:0.6"/>
<circle class="k" cx="595.4" cy="418.0" r="1.9"/>
<path class="k" d="M593,421.6l3,-2" style="stroke-width:1.2"/>
<path class="k" d="M598.4,396L618.4,402M580.8,411.2L600.8,417M599.2,423L618.4,428M580.8,438L601.3,443.6" style="stroke-width:0.5"/>
<path class="k" d="M618.4,402L622.8,403.2M600.8,417L605.6,418.4M618.4,428L622.8,429.2M601.3,443.6L605.6,444.8" style="stroke-width:1.8;stroke:#222"/>
<path class="t" d="M591.2,429.6L596.2,431.2"/>
<use href="#co" x="599.2" y="432.0"/>
<path class="t" d="M603.2,445.6L603.2,450.6"/>
<use href="#co" x="603.2" y="453.9"/>
<use href="#co" x="505.6" y="416.0"/>
<use href="#co" x="494.4" y="426.0"/>
<use href="#co" x="486.4" y="432.6"/>
<use href="#co" x="480.0" y="437.4"/>
<ellipse class="k" cx="519.0" cy="421.4" rx="1.9" ry="2.6" style="stroke-width:1.5;stroke:#222"/>
<ellipse class="k" cx="522.6" cy="422.4" rx="1.5" ry="2.2" style="stroke-width:1.0"/>
<path class="f" d="M522,424L522.6,431.6L525.6,433.6L527,431L526.4,424Q526,420.4 523.6,420.6" style="stroke-width:0.9"/>
<path class="k" d="M521,430.6L518,432.4L519,434L523,434" style="stroke-width:0.8"/>
<path class="t" d="M508.8,416.6L516.6,420.4"/>
<path class="f" d="M504,429.6L506,428L510,429L510,433.6L508,435.2L504,434.2Z" style="stroke-width:0.8"/>
<path class="k" d="M506,428V425.6M508.4,428.6V426M510,431L513.6,429" style="stroke-width:0.8"/>
<path class="t" d="M497.6,427.0L504.0,430.6"/>
<circle class="d" cx="498.4" cy="435.6" r="0.9"/>
<circle class="d" cx="498.0" cy="438.6" r="0.9"/>
<path class="t" d="M489.6,433.2L497.4,435.4"/>
<path class="t" d="M483.2,437.8L491.0,441.0"/>
<rect class="g" x="491.0" y="440.6" width="4.0" height="4.4" />
<path class="k" d="M491,442h4M491,443.6h4" style="stroke:#fff;stroke-width:0.4"/>
<path class="f" d="M531.6,436.6L533.6,435L536.4,436L536.4,441.6L534,443.2L531.6,442Z" style="stroke-width:0.8"/>
<path class="k" d="M534.6,435.4V432.6" style="stroke-width:1.6"/>
<path class="k" d="M531.6,439.6L521,435.6" style="stroke-width:0.5"/>
<path class="t" d="M537.0,441.2L541.8,441.8"/>
<use href="#co" x="545.0" y="442.0"/>
<path class="f" d="M478.4,444L480.4,442.6L489.6,445.4L489.8,469.6L487.6,471L480,468Z" style="stroke-width:1.1"/>
<path class="k" d="M478.8,445.4L487.4,448L487.6,470.6M487.4,448L489.6,445.6" style="stroke-width:0.6"/>
<path class="k" d="M480.4,452.6l2,0.6M483.6,453.4l2,0.6M480.4,455.6l2,0.6M483.6,456.4l2,0.6" style="stroke-width:1.5"/>
<circle class="k" cx="483.2" cy="464.4" r="1.7"/>
<circle class="g" cx="483.2" cy="464.4" r="0.8"/>
<ellipse class="k" cx="495.0" cy="454.0" rx="1.7" ry="2.0" style="stroke-width:1.0"/>
<circle class="g" cx="495.0" cy="454.0" r="0.6"/>
<path class="t" d="M497.6,454.8L505.0,457.4"/>
<use href="#co" x="508.0" y="458.0"/>
<path class="k" d="M490,461.6L494.6,462.8" style="stroke-width:0.5"/>
<path class="k" d="M494.6,462.8L506,465.4" style="stroke-width:1.6;stroke:#222"/>
<circle class="k" cx="489.4" cy="461.4" r="0.7"/>
<path class="t" d="M483.0,471.0L483.0,478.2"/>
<path class="t" d="M501.6,465.6L501.6,478.2"/>
<use href="#co" x="483.0" y="481.4"/>
<use href="#co" x="501.6" y="481.4"/>
<!-- 70_box3.py -->
<path class="k" d="M291,426.4L294.6,427.5M298.4,428.8L301.8,429.8M307.4,431.6L310,432.4M319,435L321,435.6M335,439.6L342.4,441.8" style="stroke-width:0.5"/>
<path class="k" d="M286.6,424.6L290.8,426" style="stroke-width:2.2;stroke:#222"/>
<path class="k" d="M286,422.8L285,426" style="stroke-width:1.3"/>
<ellipse class="f" cx="296.5" cy="428.2" rx="1.9" ry="3.4" transform="rotate(10 296.5 428.2)" style="stroke-width:0.8"/>
<ellipse class="k" cx="296.7" cy="428.2" rx="0.8" ry="1.5" transform="rotate(10 296.7 428.2)" style="stroke-width:0.6"/>
<ellipse class="k" cx="304.6" cy="430.9" rx="2.8" ry="5.2" transform="rotate(10 304.6 430.9)" style="stroke-width:1.1;stroke:#222"/>
<path class="f" d="M312,426.4L316.6,427.6Q319.4,430.6 319,435.4Q318.6,440 316,441.8L311.4,440.6" style="stroke-width:0.8"/>
<ellipse class="f" cx="312.0" cy="433.6" rx="3.2" ry="7.3" transform="rotate(8 312 433.6)" style="stroke-width:0.9"/>
<ellipse class="k" cx="312.2" cy="433.6" rx="2.0" ry="4.9" transform="rotate(8 312.2 433.6)" style="stroke-width:0.7"/>
<polygon class="f" points="330.4,438.0 329.3,439.8 330.0,442.5 328.7,443.2 328.9,446.3 327.6,445.8 327.3,448.9 326.2,447.3 325.4,449.8 324.6,447.3 323.5,448.9 323.2,445.8 321.9,446.3 322.1,443.2 320.8,442.5 321.5,439.8 320.4,438.0 321.5,436.2 320.8,433.5 322.1,432.8 321.9,429.7 323.2,430.2 323.5,427.1 324.6,428.7 325.4,426.2 326.2,428.7 327.3,427.1 327.6,430.2 328.9,429.7 328.7,432.8 330.0,433.5 329.3,436.2" transform="rotate(8 325.4 438)" style="stroke-width:0.9"/>
<ellipse class="k" cx="326.4" cy="438.2" rx="3.4" ry="8.4" transform="rotate(8 326.4 438.2)" style="stroke-width:0.7"/>
<path class="f" d="M328,431.4L332.6,432.6Q335.6,435.6 335.2,440Q334.8,444 332,445.6L327.4,444.6" style="stroke-width:0.8"/>
<ellipse class="k" cx="331.6" cy="439.0" rx="2.6" ry="5.6" transform="rotate(8 331.6 439)" style="stroke-width:0.7"/>
<ellipse class="k" cx="331.8" cy="439.0" rx="1.2" ry="2.6" transform="rotate(8 331.8 439)" style="stroke-width:0.6"/>
<path class="f" d="M343.6,438.6Q341.6,441.4 342.6,444.8L384.6,457.6Q387,454.6 386.4,451.4Z" style="stroke-width:0.8"/>
<ellipse class="f" cx="385.6" cy="454.4" rx="1.6" ry="3.3" transform="rotate(12 385.6 454.4)" style="stroke-width:0.7"/>
<path class="k" d="M354.5,441.7Q352.6,445.0 352.9,448.4" style="stroke-width:0.7"/>
<path class="k" d="M364.5,444.7Q362.6,448.0 362.9,451.4" style="stroke-width:0.7"/>
<path class="k" d="M373.3,447.3Q371.4,450.6 371.7,454.0" style="stroke-width:0.7"/>
<path class="k" d="M378.9,449.1Q377.0,452.4 377.3,455.8" style="stroke-width:0.7"/>
<path class="k" d="M346.6,444.8L350.4,446M366.4,450.4L370,451.6" style="stroke-width:1.6;stroke:#222"/>
<ellipse class="k" cx="366.8" cy="434.2" rx="2.4" ry="3.7" transform="rotate(15 366.8 434.2)" style="stroke-width:1.1;stroke:#222"/>
<ellipse class="k" cx="373.7" cy="436.5" rx="2.4" ry="3.7" transform="rotate(15 373.7 436.5)" style="stroke-width:1.1;stroke:#222"/>
<ellipse class="k" cx="377.7" cy="437.6" rx="2.4" ry="3.7" transform="rotate(15 377.7 437.6)" style="stroke-width:1.1;stroke:#222"/>
<ellipse class="k" cx="383.3" cy="439.1" rx="2.4" ry="3.7" transform="rotate(15 383.3 439.1)" style="stroke-width:1.1;stroke:#222"/>
<ellipse class="k" cx="390.2" cy="440.8" rx="2.4" ry="3.7" transform="rotate(15 390.2 440.8)" style="stroke-width:1.1;stroke:#222"/>
<path class="k" d="M375.2,426.7L398.6,434.2M375.2,426.7L357.4,443.6M381.8,428.8L363,446.4M387.4,430.6L370.6,448.2M393.4,432.4L376.2,450.2M398.6,434.2L382.8,447.4" style="stroke-width:0.5"/>
<path class="t" d="M386.5,424.7L386.5,430.4"/>
<use href="#co" x="386.5" y="421.5"/>
<path class="f" d="M333.2,457.4l1.8,-0.8l1.8,0.6l0,1.6l-1.8,0.8l-1.8,-0.6z" style="stroke-width:0.6"/>
<path class="f" d="M353.4,462.6l1.8,-0.8l1.8,0.6l0,1.6l-1.8,0.8l-1.8,-0.6z" style="stroke-width:0.6"/>
<path class="k" d="M336.8,457.1L347.1,446.6M356.5,462.3L367.2,452.2" style="stroke-width:0.5"/>
<path class="t" d="M286.6,427.6L286.6,443.2"/>
<path class="t" d="M296.0,432.0L294.7,445.6"/>
<path class="t" d="M304.0,436.2L302.5,447.5"/>
<path class="t" d="M312.4,441.6L311.5,450.3"/>
<path class="t" d="M324.0,450.0L323.3,453.5"/>
<path class="t" d="M334.9,460.4L334.9,464.8"/>
<path class="t" d="M355.2,465.2L354.6,470.4"/>
<path class="t" d="M374.3,456.6L374.3,468.1"/>
<use href="#co" x="286.6" y="446.4"/>
<use href="#co" x="294.7" y="448.8"/>
<use href="#co" x="302.5" y="450.7"/>
<use href="#co" x="311.5" y="453.5"/>
<use href="#co" x="323.3" y="456.7"/>
<use href="#co" x="334.9" y="468.0"/>
<use href="#co" x="354.6" y="473.6"/>
<use href="#co" x="374.3" y="471.3"/>
</svg></body></html>
